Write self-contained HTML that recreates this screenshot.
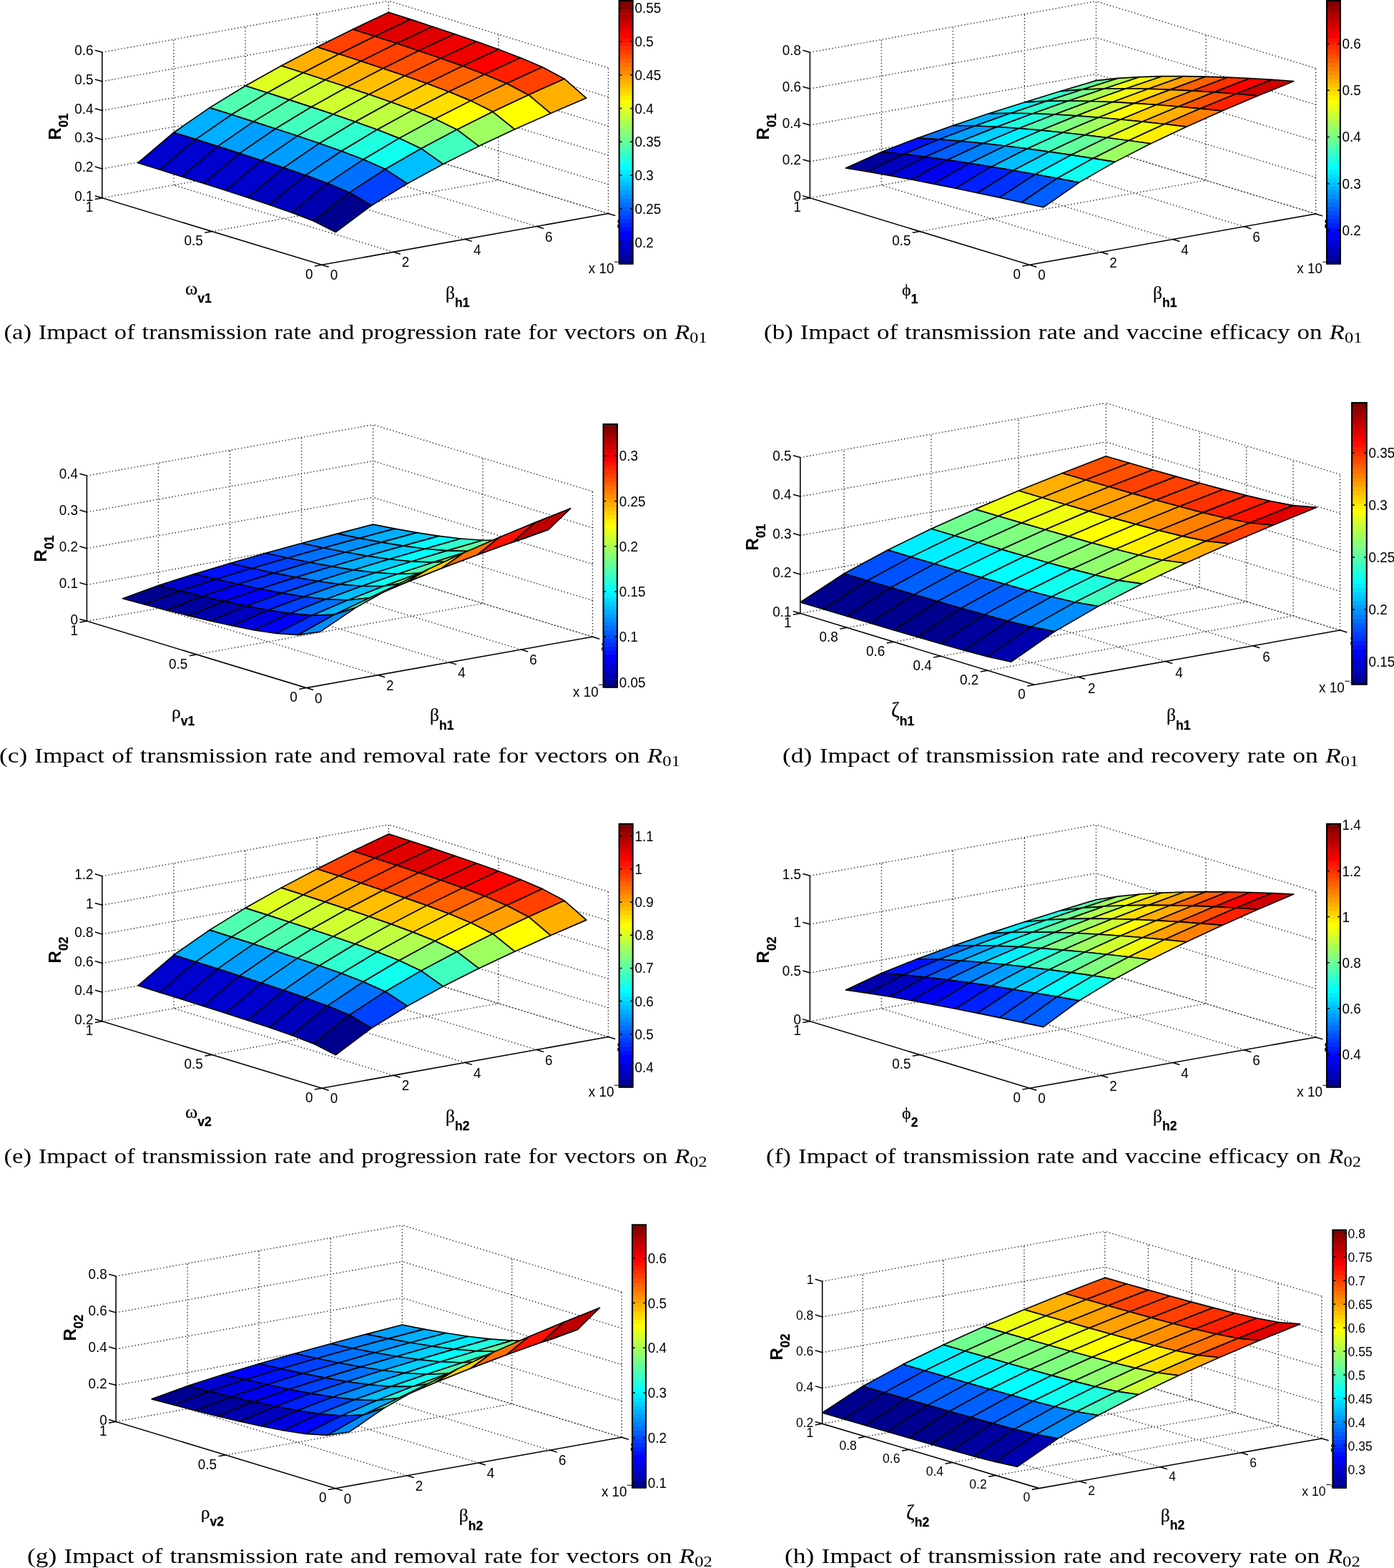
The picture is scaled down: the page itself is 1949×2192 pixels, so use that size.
<!DOCTYPE html>
<html lang="en">
<head>
<meta charset="utf-8">
<title>Impact of parameters on R01 and R02</title>
<style>
html,body{margin:0;padding:0;background:#fff;}
body{width:1949px;height:2192px;overflow:hidden;}
svg{display:block;position:absolute;left:0;top:0;}
.gr{fill:none;stroke:#000;stroke-width:1.4;stroke-dasharray:1.4 3.07;stroke-opacity:.85}
.gr2{fill:none;stroke:#000;stroke-width:1.3;stroke-dasharray:2.6 1.87;stroke-opacity:.8}
.ax{fill:none;stroke:#000;stroke-width:1.55;stroke-linecap:butt;stroke-linejoin:miter}
.sf path{stroke:#000;stroke-width:1.65;stroke-linejoin:round}
.cb{fill:none;stroke:#000;stroke-width:2.1}
.ct{fill:none;stroke:#000;stroke-width:1.5}
text{font-family:"Liberation Sans",sans-serif;fill:#000}
.tk{font-size:19.9px}
.e{text-anchor:end}
.m{text-anchor:middle}
.sup{font-size:15px}
.sup2{font-size:15px}
.al{font-size:24px;font-weight:bold}
.sb{font-size:17.6px;font-weight:bold;font-family:"Liberation Sans",sans-serif;stroke:#000;stroke-width:.25px}
.gk{font-size:25.6px;font-family:"Liberation Serif",serif;stroke:#000;stroke-width:.2px}
.cap{font-family:"Liberation Serif",serif;font-size:30px;word-spacing:1.1px}
.it{font-style:italic}
.cs{font-size:21px}
</style>
</head>
<body>
<svg xmlns="http://www.w3.org/2000/svg" width="1949" height="2192" viewBox="0 0 1949 2192">
<rect width="1949" height="2192" fill="#fff"/>
<g>
<path class="gr" d="M550.05 352.35L242.95 258.75M650.2 334.4L343.1 240.8M750.35 316.45L443.25 222.85M296.35 323.5L696.95 251.7M142.8 276.7L543.4 204.9M242.95 258.75L242.95 55.15M343.1 240.8L343.1 37.2M443.25 222.85L443.25 19.25M543.4 204.9L543.4 1.3M142.8 235.98L543.4 164.18M142.8 195.26L543.4 123.46M142.8 154.54L543.4 82.74M142.8 113.82L543.4 42.02M142.8 73.1L543.4 1.3M850.5 298.5L850.5 94.9M696.95 251.7L696.95 48.1M850.5 257.78L543.4 164.18M850.5 217.06L543.4 123.46M850.5 176.34L543.4 82.74M850.5 135.62L543.4 42.02M850.5 94.9L543.4 1.3"/>
<path class="gr2" d="M850.5 298.5L543.4 204.9"/>
<path class="ax" d="M142.8 73.1L142.8 276.7L449.9 370.3L850.5 298.5M142.8 276.7L132.8 273.8M142.8 235.98L132.8 233.08M142.8 195.26L132.8 192.36M142.8 154.54L132.8 151.64M142.8 113.82L132.8 110.92M142.8 73.1L132.8 70.2M449.9 370.3L439.86 372.1M296.35 323.5L286.31 325.3M142.8 276.7L132.76 278.5M449.9 370.3L459.66 373.27M550.05 352.35L559.81 355.32M650.2 334.4L659.96 337.37M750.35 316.45L760.11 319.42M850.5 298.5L860.26 301.47"/>
<g class="sf">
<path fill="#df0000" d="M524.03 50.8L574.11 27.11L543.4 17.18L493.32 40.91Z"/>
<path fill="#df0000" d="M554.75 60.82L604.82 37.17L574.11 27.11L524.03 50.8Z"/>
<path fill="#ff4000" d="M473.96 75.59L524.03 50.8L493.32 40.91L443.25 65.74Z"/>
<path fill="#df0000" d="M585.45 71.02L635.53 47.43L604.82 37.17L554.75 60.82Z"/>
<path fill="#ff4000" d="M504.67 85.56L554.75 60.82L524.03 50.8L473.96 75.59Z"/>
<path fill="#ffaf00" d="M423.88 101.76L473.96 75.59L443.25 65.74L393.18 91.95Z"/>
<path fill="#ef0000" d="M616.16 81.48L666.24 57.96L635.53 47.43L585.45 71.02Z"/>
<path fill="#ff4000" d="M535.38 95.69L585.45 71.02L554.75 60.82L504.67 85.56Z"/>
<path fill="#ffaf00" d="M454.6 111.67L504.67 85.56L473.96 75.59L423.88 101.76Z"/>
<path fill="#dfff20" d="M373.81 129.75L423.88 101.76L393.18 91.95L343.1 119.99Z"/>
<path fill="#ef0000" d="M646.88 92.35L696.95 68.94L666.24 57.96L616.16 81.48Z"/>
<path fill="#ff5000" d="M566.09 106.07L616.16 81.48L585.45 71.02L535.38 95.69Z"/>
<path fill="#ffaf00" d="M485.3 121.74L535.38 95.69L504.67 85.56L454.6 111.67Z"/>
<path fill="#cfff30" d="M404.52 139.61L454.6 111.67L423.88 101.76L373.81 129.75Z"/>
<path fill="#50ffaf" d="M323.74 160.31L373.81 129.75L343.1 119.99L293.03 150.61Z"/>
<path fill="#ff0000" d="M677.58 103.92L727.66 80.66L696.95 68.94L646.88 92.35Z"/>
<path fill="#ff5000" d="M596.8 116.83L646.88 92.35L616.16 81.48L566.09 106.07Z"/>
<path fill="#ffbf00" d="M516.01 132.03L566.09 106.07L535.38 95.69L485.3 121.74Z"/>
<path fill="#cfff30" d="M435.23 149.6L485.3 121.74L454.6 111.67L404.52 139.61Z"/>
<path fill="#50ffaf" d="M354.45 170.1L404.52 139.61L373.81 129.75L323.74 160.31Z"/>
<path fill="#ff2000" d="M708.29 116.81L758.37 93.8L727.66 80.66L677.58 103.92Z"/>
<path fill="#00afff" d="M273.66 194.89L323.74 160.31L293.03 150.61L242.95 185.25Z"/>
<path fill="#ff6000" d="M627.51 128.24L677.58 103.92L646.88 92.35L596.8 116.83Z"/>
<path fill="#ffbf00" d="M546.73 142.67L596.8 116.83L566.09 106.07L516.01 132.03Z"/>
<path fill="#cfff30" d="M465.94 159.79L516.01 132.03L485.3 121.74L435.23 149.6Z"/>
<path fill="#50ffaf" d="M385.15 180.01L435.23 149.6L404.52 139.61L354.45 170.1Z"/>
<path fill="#ff4000" d="M739 132.73L789.08 110.17L758.37 93.8L708.29 116.81Z"/>
<path fill="#00afff" d="M304.37 204.61L354.45 170.1L323.74 160.31L273.66 194.89Z"/>
<path fill="#ff8000" d="M658.22 140.87L708.29 116.81L677.58 103.92L627.51 128.24Z"/>
<path fill="#0000cf" d="M223.58 237.24L273.66 194.89L242.95 185.25L192.88 227.68Z"/>
<path fill="#ffcf00" d="M577.43 153.9L627.51 128.24L596.8 116.83L546.73 142.67Z"/>
<path fill="#bfff40" d="M496.65 170.3L546.73 142.67L516.01 132.03L465.94 159.79Z"/>
<path fill="#40ffbf" d="M415.87 190.09L465.94 159.79L435.23 149.6L385.15 180.01Z"/>
<path fill="#ffaf00" d="M769.71 158.5L819.79 137.07L789.08 110.17L739 132.73Z"/>
<path fill="#009fff" d="M335.08 214.41L385.15 180.01L354.45 170.1L304.37 204.61Z"/>
<path fill="#ff9f00" d="M688.93 156.29L739 132.73L708.29 116.81L658.22 140.87Z"/>
<path fill="#0000cf" d="M254.29 246.85L304.37 204.61L273.66 194.89L223.58 237.24Z"/>
<path fill="#ffdf00" d="M608.14 166.24L658.22 140.87L627.51 128.24L577.43 153.9Z"/>
<path fill="#bfff40" d="M527.36 181.33L577.43 153.9L546.73 142.67L496.65 170.3Z"/>
<path fill="#40ffbf" d="M446.58 200.44L496.65 170.3L465.94 159.79L415.87 190.09Z"/>
<path fill="#009fff" d="M365.79 224.36L415.87 190.09L385.15 180.01L335.08 214.41Z"/>
<path fill="#ffff00" d="M719.64 180.85L769.71 158.5L739 132.73L688.93 156.29Z"/>
<path fill="#0000cf" d="M285 256.53L335.08 214.41L304.37 204.61L254.29 246.85Z"/>
<path fill="#ffff00" d="M638.86 181.14L688.93 156.29L658.22 140.87L608.14 166.24Z"/>
<path fill="#afff50" d="M558.07 193.36L608.14 166.24L577.43 153.9L527.36 181.33Z"/>
<path fill="#30ffcf" d="M477.29 211.25L527.36 181.33L496.65 170.3L446.58 200.44Z"/>
<path fill="#009fff" d="M396.5 234.53L446.58 200.44L415.87 190.09L365.79 224.36Z"/>
<path fill="#0000cf" d="M315.71 266.3L365.79 224.36L335.08 214.41L285 256.53Z"/>
<path fill="#9fff60" d="M669.56 204.37L719.64 180.85L688.93 156.29L638.86 181.14Z"/>
<path fill="#8fff70" d="M588.78 207.67L638.86 181.14L608.14 166.24L558.07 193.36Z"/>
<path fill="#20ffdf" d="M508 222.92L558.07 193.36L527.36 181.33L477.29 211.25Z"/>
<path fill="#008fff" d="M427.21 245.07L477.29 211.25L446.58 200.44L396.5 234.53Z"/>
<path fill="#0000cf" d="M346.42 276.23L396.5 234.53L365.79 224.36L315.71 266.3Z"/>
<path fill="#40ffbf" d="M619.49 229.44L669.56 204.37L638.86 181.14L588.78 207.67Z"/>
<path fill="#10ffef" d="M538.71 236.57L588.78 207.67L558.07 193.36L508 222.92Z"/>
<path fill="#008fff" d="M457.92 256.32L508 222.92L477.29 211.25L427.21 245.07Z"/>
<path fill="#0000bf" d="M377.13 286.43L427.21 245.07L396.5 234.53L346.42 276.23Z"/>
<path fill="#00bfff" d="M569.41 256.68L619.49 229.44L588.78 207.67L538.71 236.57Z"/>
<path fill="#0070ff" d="M488.63 269.18L538.71 236.57L508 222.92L457.92 256.32Z"/>
<path fill="#0000bf" d="M407.84 297.12L457.92 256.32L427.21 245.07L377.13 286.43Z"/>
<path fill="#0040ff" d="M519.34 287.31L569.41 256.68L538.71 236.57L488.63 269.18Z"/>
<path fill="#0000af" d="M438.55 308.96L488.63 269.18L457.92 256.32L407.84 297.12Z"/>
<path fill="#00008f" d="M469.26 324.52L519.34 287.31L488.63 269.18L438.55 308.96Z"/>
</g>
<text class="tk e" transform="translate(130.5 280.9) scale(0.95 1)">0.1</text>
<text class="tk e" transform="translate(130.5 240.18) scale(0.95 1)">0.2</text>
<text class="tk e" transform="translate(130.5 199.46) scale(0.95 1)">0.3</text>
<text class="tk e" transform="translate(130.5 158.74) scale(0.95 1)">0.4</text>
<text class="tk e" transform="translate(130.5 118.02) scale(0.95 1)">0.5</text>
<text class="tk e" transform="translate(130.5 77.3) scale(0.95 1)">0.6</text>
<text class="tk e" transform="translate(437.4 389.9) scale(0.95 1)">0</text>
<text class="tk e" transform="translate(283.85 343.1) scale(0.95 1)">0.5</text>
<text class="tk e" transform="translate(130.3 296.3) scale(0.95 1)">1</text>
<text class="tk m" transform="translate(466.9 391.4) scale(0.95 1)">0</text>
<text class="tk m" transform="translate(567.05 373.45) scale(0.95 1)">2</text>
<text class="tk m" transform="translate(667.2 355.5) scale(0.95 1)">4</text>
<text class="tk m" transform="translate(767.35 337.55) scale(0.95 1)">6</text>
<text class="tk m" transform="translate(867.5 319.6) scale(0.95 1)">8</text>
<text class="tk" transform="translate(822.8 382) scale(0.95 1)">x 10<tspan class="sup" dy="-11.2" dx="-0.3">−</tspan><tspan class="sup2">4</tspan></text>
<text class="al" transform="translate(84.8 177) rotate(-90)" text-anchor="middle">R<tspan class="sb" dy="10">01</tspan></text>
<text class="gk" x="259" y="412.3"><tspan font-size="26.2">ω</tspan><tspan class="sb" dy="10.8">v1</tspan></text>
<text class="gk" x="623" y="417.6">β<tspan class="sb" dy="11.6">h1</tspan></text>
<rect x="864.7" y="1" width="21" height="370.8" fill="#fff"/>
<rect x="865.7" y="363.05" width="19" height="6.35" fill="#00008f"/>
<rect x="865.7" y="357.31" width="19" height="6.35" fill="#00009f"/>
<rect x="865.7" y="351.56" width="19" height="6.35" fill="#0000af"/>
<rect x="865.7" y="345.81" width="19" height="6.35" fill="#0000bf"/>
<rect x="865.7" y="340.07" width="19" height="6.35" fill="#0000cf"/>
<rect x="865.7" y="334.32" width="19" height="6.35" fill="#0000df"/>
<rect x="865.7" y="328.57" width="19" height="6.35" fill="#0000ef"/>
<rect x="865.7" y="322.82" width="19" height="6.35" fill="#0000ff"/>
<rect x="865.7" y="317.08" width="19" height="6.35" fill="#0010ff"/>
<rect x="865.7" y="311.33" width="19" height="6.35" fill="#0020ff"/>
<rect x="865.7" y="305.58" width="19" height="6.35" fill="#0030ff"/>
<rect x="865.7" y="299.84" width="19" height="6.35" fill="#0040ff"/>
<rect x="865.7" y="294.09" width="19" height="6.35" fill="#0050ff"/>
<rect x="865.7" y="288.34" width="19" height="6.35" fill="#0060ff"/>
<rect x="865.7" y="282.6" width="19" height="6.35" fill="#0070ff"/>
<rect x="865.7" y="276.85" width="19" height="6.35" fill="#0080ff"/>
<rect x="865.7" y="271.1" width="19" height="6.35" fill="#008fff"/>
<rect x="865.7" y="265.36" width="19" height="6.35" fill="#009fff"/>
<rect x="865.7" y="259.61" width="19" height="6.35" fill="#00afff"/>
<rect x="865.7" y="253.86" width="19" height="6.35" fill="#00bfff"/>
<rect x="865.7" y="248.12" width="19" height="6.35" fill="#00cfff"/>
<rect x="865.7" y="242.37" width="19" height="6.35" fill="#00dfff"/>
<rect x="865.7" y="236.62" width="19" height="6.35" fill="#00efff"/>
<rect x="865.7" y="230.88" width="19" height="6.35" fill="#00ffff"/>
<rect x="865.7" y="225.13" width="19" height="6.35" fill="#10ffef"/>
<rect x="865.7" y="219.38" width="19" height="6.35" fill="#20ffdf"/>
<rect x="865.7" y="213.63" width="19" height="6.35" fill="#30ffcf"/>
<rect x="865.7" y="207.89" width="19" height="6.35" fill="#40ffbf"/>
<rect x="865.7" y="202.14" width="19" height="6.35" fill="#50ffaf"/>
<rect x="865.7" y="196.39" width="19" height="6.35" fill="#60ff9f"/>
<rect x="865.7" y="190.65" width="19" height="6.35" fill="#70ff8f"/>
<rect x="865.7" y="184.9" width="19" height="6.35" fill="#80ff80"/>
<rect x="865.7" y="179.15" width="19" height="6.35" fill="#8fff70"/>
<rect x="865.7" y="173.41" width="19" height="6.35" fill="#9fff60"/>
<rect x="865.7" y="167.66" width="19" height="6.35" fill="#afff50"/>
<rect x="865.7" y="161.91" width="19" height="6.35" fill="#bfff40"/>
<rect x="865.7" y="156.17" width="19" height="6.35" fill="#cfff30"/>
<rect x="865.7" y="150.42" width="19" height="6.35" fill="#dfff20"/>
<rect x="865.7" y="144.67" width="19" height="6.35" fill="#efff10"/>
<rect x="865.7" y="138.93" width="19" height="6.35" fill="#ffff00"/>
<rect x="865.7" y="133.18" width="19" height="6.35" fill="#ffef00"/>
<rect x="865.7" y="127.43" width="19" height="6.35" fill="#ffdf00"/>
<rect x="865.7" y="121.68" width="19" height="6.35" fill="#ffcf00"/>
<rect x="865.7" y="115.94" width="19" height="6.35" fill="#ffbf00"/>
<rect x="865.7" y="110.19" width="19" height="6.35" fill="#ffaf00"/>
<rect x="865.7" y="104.44" width="19" height="6.35" fill="#ff9f00"/>
<rect x="865.7" y="98.7" width="19" height="6.35" fill="#ff8f00"/>
<rect x="865.7" y="92.95" width="19" height="6.35" fill="#ff8000"/>
<rect x="865.7" y="87.2" width="19" height="6.35" fill="#ff7000"/>
<rect x="865.7" y="81.46" width="19" height="6.35" fill="#ff6000"/>
<rect x="865.7" y="75.71" width="19" height="6.35" fill="#ff5000"/>
<rect x="865.7" y="69.96" width="19" height="6.35" fill="#ff4000"/>
<rect x="865.7" y="64.22" width="19" height="6.35" fill="#ff3000"/>
<rect x="865.7" y="58.47" width="19" height="6.35" fill="#ff2000"/>
<rect x="865.7" y="52.72" width="19" height="6.35" fill="#ff1000"/>
<rect x="865.7" y="46.98" width="19" height="6.35" fill="#ff0000"/>
<rect x="865.7" y="41.23" width="19" height="6.35" fill="#ef0000"/>
<rect x="865.7" y="35.48" width="19" height="6.35" fill="#df0000"/>
<rect x="865.7" y="29.73" width="19" height="6.35" fill="#cf0000"/>
<rect x="865.7" y="23.99" width="19" height="6.35" fill="#bf0000"/>
<rect x="865.7" y="18.24" width="19" height="6.35" fill="#af0000"/>
<rect x="865.7" y="12.49" width="19" height="6.35" fill="#9f0000"/>
<rect x="865.7" y="6.75" width="19" height="6.35" fill="#8f0000"/>
<rect x="865.7" y="1" width="19" height="6.35" fill="#800000"/>
<text class="tk" transform="translate(887.4 345.68) scale(0.95 1)">0.2</text>
<text class="tk" transform="translate(887.4 298.91) scale(0.95 1)">0.25</text>
<text class="tk" transform="translate(887.4 252.14) scale(0.95 1)">0.3</text>
<text class="tk" transform="translate(887.4 205.37) scale(0.95 1)">0.35</text>
<text class="tk" transform="translate(887.4 158.6) scale(0.95 1)">0.4</text>
<text class="tk" transform="translate(887.4 111.83) scale(0.95 1)">0.45</text>
<text class="tk" transform="translate(887.4 65.06) scale(0.95 1)">0.5</text>
<text class="tk" transform="translate(887.4 18.29) scale(0.95 1)">0.55</text>
<path class="ct" d="M865.7 338.68h3.7M884.7 338.68h-3.7M865.7 291.91h3.7M884.7 291.91h-3.7M865.7 245.14h3.7M884.7 245.14h-3.7M865.7 198.37h3.7M884.7 198.37h-3.7M865.7 151.6h3.7M884.7 151.6h-3.7M865.7 104.83h3.7M884.7 104.83h-3.7M865.7 58.06h3.7M884.7 58.06h-3.7M865.7 11.29h3.7M884.7 11.29h-3.7"/>
<path class="cb" d="M865.7 1H884.7V368.8H865.7Z"/>
<text class="cap" x="5.5" y="474.3" textLength="983" lengthAdjust="spacingAndGlyphs">(a) Impact of transmission rate and progression rate for vectors on <tspan class="it">R</tspan><tspan class="cs" dy="5">01</tspan></text>
</g>
<g>
<path class="gr" d="M1539.53 352.45L1232.43 258.85M1639.55 334.6L1332.45 241M1739.57 316.75L1432.47 223.15M1285.95 323.5L1686.05 252.1M1132.4 276.7L1532.5 205.3M1232.43 258.85L1232.43 55.35M1332.45 241L1332.45 37.5M1432.47 223.15L1432.47 19.65M1532.5 205.3L1532.5 1.8M1132.4 225.82L1532.5 154.42M1132.4 174.95L1532.5 103.55M1132.4 124.08L1532.5 52.67M1132.4 73.2L1532.5 1.8M1839.6 298.9L1839.6 95.4M1686.05 252.1L1686.05 48.6M1839.6 248.02L1532.5 154.42M1839.6 197.15L1532.5 103.55M1839.6 146.28L1532.5 52.67M1839.6 95.4L1532.5 1.8"/>
<path class="gr2" d="M1839.6 298.9L1532.5 205.3"/>
<path class="ax" d="M1132.4 73.2L1132.4 276.7L1439.5 370.3L1839.6 298.9M1132.4 276.7L1122.4 273.8M1132.4 225.82L1122.4 222.92M1132.4 174.95L1122.4 172.05M1132.4 124.08L1122.4 121.18M1132.4 73.2L1122.4 70.3M1439.5 370.3L1429.46 372.09M1285.95 323.5L1275.91 325.29M1132.4 276.7L1122.36 278.49M1439.5 370.3L1449.26 373.27M1539.53 352.45L1549.28 355.42M1639.55 334.6L1649.31 337.57M1739.57 316.75L1749.33 319.72M1839.6 298.9L1849.36 301.87"/>
<g class="sf">
<path fill="#60ff9f" d="M1513.2 125.16L1563.21 109.44L1532.5 112.66L1482.49 127.56Z"/>
<path fill="#afff50" d="M1543.91 124.01L1593.92 107.57L1563.21 109.44L1513.2 125.16Z"/>
<path fill="#30ffcf" d="M1463.18 141.38L1513.2 125.16L1482.49 127.56L1432.47 142.92Z"/>
<path fill="#efff10" d="M1574.62 123.8L1624.63 106.69L1593.92 107.57L1543.91 124.01Z"/>
<path fill="#70ff8f" d="M1493.89 141.02L1543.91 124.01L1513.2 125.16L1463.18 141.38Z"/>
<path fill="#00efff" d="M1413.17 158.25L1463.18 141.38L1432.47 142.92L1382.46 158.83Z"/>
<path fill="#ffcf00" d="M1605.33 124.3L1655.34 106.58L1624.63 106.69L1574.62 123.8Z"/>
<path fill="#afff50" d="M1524.6 141.51L1574.62 123.8L1543.91 124.01L1493.89 141.02Z"/>
<path fill="#30ffcf" d="M1443.88 158.73L1493.89 141.02L1463.18 141.38L1413.17 158.25Z"/>
<path fill="#00afff" d="M1363.16 175.96L1413.17 158.25L1382.46 158.83L1332.45 175.49Z"/>
<path fill="#ff9f00" d="M1636.04 125.38L1686.05 107.09L1655.34 106.58L1605.33 124.3Z"/>
<path fill="#efff10" d="M1555.31 142.67L1605.33 124.3L1574.62 123.8L1524.6 141.51Z"/>
<path fill="#70ff8f" d="M1474.59 160L1524.6 141.51L1493.89 141.02L1443.88 158.73Z"/>
<path fill="#00efff" d="M1393.87 177.38L1443.88 158.73L1413.17 158.25L1363.16 175.96Z"/>
<path fill="#0070ff" d="M1313.15 194.85L1363.16 175.96L1332.45 175.49L1282.44 193.19Z"/>
<path fill="#ff6000" d="M1666.75 126.93L1716.76 108.1L1686.05 107.09L1636.04 125.38Z"/>
<path fill="#ffdf00" d="M1586.02 144.36L1636.04 125.38L1605.33 124.3L1555.31 142.67Z"/>
<path fill="#9fff60" d="M1505.3 161.87L1555.31 142.67L1524.6 141.51L1474.59 160Z"/>
<path fill="#20ffdf" d="M1424.58 179.5L1474.59 160L1443.88 158.73L1393.87 177.38Z"/>
<path fill="#009fff" d="M1343.86 197.33L1393.87 177.38L1363.16 175.96L1313.15 194.85Z"/>
<path fill="#ff3000" d="M1697.46 128.89L1747.47 109.55L1716.76 108.1L1666.75 126.93Z"/>
<path fill="#0010ff" d="M1263.14 215.6L1313.15 194.85L1282.44 193.19L1232.43 212.53Z"/>
<path fill="#ffaf00" d="M1616.73 146.5L1666.75 126.93L1636.04 125.38L1586.02 144.36Z"/>
<path fill="#cfff30" d="M1536.01 164.23L1586.02 144.36L1555.31 142.67L1505.3 161.87Z"/>
<path fill="#50ffaf" d="M1455.29 182.16L1505.3 161.87L1474.59 160L1424.58 179.5Z"/>
<path fill="#00cfff" d="M1374.57 200.42L1424.58 179.5L1393.87 177.38L1343.86 197.33Z"/>
<path fill="#ff0000" d="M1728.17 131.2L1778.18 111.37L1747.47 109.55L1697.46 128.89Z"/>
<path fill="#0040ff" d="M1293.85 219.34L1343.86 197.33L1313.15 194.85L1263.14 215.6Z"/>
<path fill="#ff8000" d="M1647.44 149.01L1697.46 128.89L1666.75 126.93L1616.73 146.5Z"/>
<path fill="#00009f" d="M1213.12 239.93L1263.14 215.6L1232.43 212.53L1182.41 235.02Z"/>
<path fill="#ffff00" d="M1566.72 167L1616.73 146.5L1586.02 144.36L1536.01 164.23Z"/>
<path fill="#80ff80" d="M1486 185.26L1536.01 164.23L1505.3 161.87L1455.29 182.16Z"/>
<path fill="#00efff" d="M1405.28 203.98L1455.29 182.16L1424.58 179.5L1374.57 200.42Z"/>
<path fill="#cf0000" d="M1758.88 133.81L1808.89 113.51L1778.18 111.37L1728.17 131.2Z"/>
<path fill="#0060ff" d="M1324.56 223.58L1374.57 200.42L1343.86 197.33L1293.85 219.34Z"/>
<path fill="#ff5000" d="M1678.15 151.84L1728.17 131.2L1697.46 128.89L1647.44 149.01Z"/>
<path fill="#0000bf" d="M1243.83 245.32L1293.85 219.34L1263.14 215.6L1213.12 239.93Z"/>
<path fill="#ffcf00" d="M1597.43 170.1L1647.44 149.01L1616.73 146.5L1566.72 167Z"/>
<path fill="#9fff60" d="M1516.71 188.72L1566.72 167L1536.01 164.23L1486 185.26Z"/>
<path fill="#20ffdf" d="M1435.99 207.92L1486 185.26L1455.29 182.16L1405.28 203.98Z"/>
<path fill="#0080ff" d="M1355.27 228.21L1405.28 203.98L1374.57 200.42L1324.56 223.58Z"/>
<path fill="#ff2000" d="M1708.86 154.95L1758.88 133.81L1728.17 131.2L1678.15 151.84Z"/>
<path fill="#0000df" d="M1274.54 251.06L1324.56 223.58L1293.85 219.34L1243.83 245.32Z"/>
<path fill="#ffaf00" d="M1628.14 173.5L1678.15 151.84L1647.44 149.01L1597.43 170.1Z"/>
<path fill="#cfff30" d="M1547.42 192.49L1597.43 170.1L1566.72 167L1516.71 188.72Z"/>
<path fill="#40ffbf" d="M1466.7 212.17L1516.71 188.72L1486 185.26L1435.99 207.92Z"/>
<path fill="#009fff" d="M1385.98 233.14L1435.99 207.92L1405.28 203.98L1355.27 228.21Z"/>
<path fill="#0000ef" d="M1305.25 257.07L1355.27 228.21L1324.56 223.58L1274.54 251.06Z"/>
<path fill="#ff8000" d="M1658.85 177.15L1708.86 154.95L1678.15 151.84L1628.14 173.5Z"/>
<path fill="#efff10" d="M1578.13 196.51L1628.14 173.5L1597.43 170.1L1547.42 192.49Z"/>
<path fill="#60ff9f" d="M1497.41 216.69L1547.42 192.49L1516.71 188.72L1466.7 212.17Z"/>
<path fill="#00bfff" d="M1416.69 238.33L1466.7 212.17L1435.99 207.92L1385.98 233.14Z"/>
<path fill="#0010ff" d="M1335.96 263.3L1385.98 233.14L1355.27 228.21L1305.25 257.07Z"/>
<path fill="#ffef00" d="M1608.84 200.77L1658.85 177.15L1628.14 173.5L1578.13 196.51Z"/>
<path fill="#80ff80" d="M1528.12 221.43L1578.13 196.51L1547.42 192.49L1497.41 216.69Z"/>
<path fill="#00dfff" d="M1447.4 243.74L1497.41 216.69L1466.7 212.17L1416.69 238.33Z"/>
<path fill="#0020ff" d="M1366.67 269.72L1416.69 238.33L1385.98 233.14L1335.96 263.3Z"/>
<path fill="#9fff60" d="M1558.83 226.37L1608.84 200.77L1578.13 196.51L1528.12 221.43Z"/>
<path fill="#00ffff" d="M1478.11 249.33L1528.12 221.43L1497.41 216.69L1447.4 243.74Z"/>
<path fill="#0030ff" d="M1397.38 276.28L1447.4 243.74L1416.69 238.33L1366.67 269.72Z"/>
<path fill="#10ffef" d="M1508.82 255.08L1558.83 226.37L1528.12 221.43L1478.11 249.33Z"/>
<path fill="#0050ff" d="M1428.09 282.97L1478.11 249.33L1447.4 243.74L1397.38 276.28Z"/>
<path fill="#0060ff" d="M1458.8 289.78L1508.82 255.08L1478.11 249.33L1428.09 282.97Z"/>
</g>
<text class="tk e" transform="translate(1120.1 280.9) scale(0.95 1)">0</text>
<text class="tk e" transform="translate(1120.1 230.02) scale(0.95 1)">0.2</text>
<text class="tk e" transform="translate(1120.1 179.15) scale(0.95 1)">0.4</text>
<text class="tk e" transform="translate(1120.1 128.28) scale(0.95 1)">0.6</text>
<text class="tk e" transform="translate(1120.1 77.4) scale(0.95 1)">0.8</text>
<text class="tk e" transform="translate(1427 389.9) scale(0.95 1)">0</text>
<text class="tk e" transform="translate(1273.45 343.1) scale(0.95 1)">0.5</text>
<text class="tk e" transform="translate(1119.9 296.3) scale(0.95 1)">1</text>
<text class="tk m" transform="translate(1456.5 391.4) scale(0.95 1)">0</text>
<text class="tk m" transform="translate(1556.53 373.55) scale(0.95 1)">2</text>
<text class="tk m" transform="translate(1656.55 355.7) scale(0.95 1)">4</text>
<text class="tk m" transform="translate(1756.57 337.85) scale(0.95 1)">6</text>
<text class="tk m" transform="translate(1856.6 320) scale(0.95 1)">8</text>
<text class="tk" transform="translate(1813.3 382) scale(0.95 1)">x 10<tspan class="sup" dy="-11.2" dx="-0.3">−</tspan><tspan class="sup2">4</tspan></text>
<text class="al" transform="translate(1074.8 177) rotate(-90)" text-anchor="middle">R<tspan class="sb" dy="10">01</tspan></text>
<text class="gk" x="1261" y="413.2"><tspan font-size="24">ϕ</tspan><tspan class="sb" dy="10.8">1</tspan></text>
<text class="gk" x="1612" y="417.6">β<tspan class="sb" dy="11.6">h1</tspan></text>
<rect x="1854" y="1" width="20.9" height="370.8" fill="#fff"/>
<rect x="1855" y="363.05" width="18.9" height="6.35" fill="#00008f"/>
<rect x="1855" y="357.31" width="18.9" height="6.35" fill="#00009f"/>
<rect x="1855" y="351.56" width="18.9" height="6.35" fill="#0000af"/>
<rect x="1855" y="345.81" width="18.9" height="6.35" fill="#0000bf"/>
<rect x="1855" y="340.07" width="18.9" height="6.35" fill="#0000cf"/>
<rect x="1855" y="334.32" width="18.9" height="6.35" fill="#0000df"/>
<rect x="1855" y="328.57" width="18.9" height="6.35" fill="#0000ef"/>
<rect x="1855" y="322.82" width="18.9" height="6.35" fill="#0000ff"/>
<rect x="1855" y="317.08" width="18.9" height="6.35" fill="#0010ff"/>
<rect x="1855" y="311.33" width="18.9" height="6.35" fill="#0020ff"/>
<rect x="1855" y="305.58" width="18.9" height="6.35" fill="#0030ff"/>
<rect x="1855" y="299.84" width="18.9" height="6.35" fill="#0040ff"/>
<rect x="1855" y="294.09" width="18.9" height="6.35" fill="#0050ff"/>
<rect x="1855" y="288.34" width="18.9" height="6.35" fill="#0060ff"/>
<rect x="1855" y="282.6" width="18.9" height="6.35" fill="#0070ff"/>
<rect x="1855" y="276.85" width="18.9" height="6.35" fill="#0080ff"/>
<rect x="1855" y="271.1" width="18.9" height="6.35" fill="#008fff"/>
<rect x="1855" y="265.36" width="18.9" height="6.35" fill="#009fff"/>
<rect x="1855" y="259.61" width="18.9" height="6.35" fill="#00afff"/>
<rect x="1855" y="253.86" width="18.9" height="6.35" fill="#00bfff"/>
<rect x="1855" y="248.12" width="18.9" height="6.35" fill="#00cfff"/>
<rect x="1855" y="242.37" width="18.9" height="6.35" fill="#00dfff"/>
<rect x="1855" y="236.62" width="18.9" height="6.35" fill="#00efff"/>
<rect x="1855" y="230.88" width="18.9" height="6.35" fill="#00ffff"/>
<rect x="1855" y="225.13" width="18.9" height="6.35" fill="#10ffef"/>
<rect x="1855" y="219.38" width="18.9" height="6.35" fill="#20ffdf"/>
<rect x="1855" y="213.63" width="18.9" height="6.35" fill="#30ffcf"/>
<rect x="1855" y="207.89" width="18.9" height="6.35" fill="#40ffbf"/>
<rect x="1855" y="202.14" width="18.9" height="6.35" fill="#50ffaf"/>
<rect x="1855" y="196.39" width="18.9" height="6.35" fill="#60ff9f"/>
<rect x="1855" y="190.65" width="18.9" height="6.35" fill="#70ff8f"/>
<rect x="1855" y="184.9" width="18.9" height="6.35" fill="#80ff80"/>
<rect x="1855" y="179.15" width="18.9" height="6.35" fill="#8fff70"/>
<rect x="1855" y="173.41" width="18.9" height="6.35" fill="#9fff60"/>
<rect x="1855" y="167.66" width="18.9" height="6.35" fill="#afff50"/>
<rect x="1855" y="161.91" width="18.9" height="6.35" fill="#bfff40"/>
<rect x="1855" y="156.17" width="18.9" height="6.35" fill="#cfff30"/>
<rect x="1855" y="150.42" width="18.9" height="6.35" fill="#dfff20"/>
<rect x="1855" y="144.67" width="18.9" height="6.35" fill="#efff10"/>
<rect x="1855" y="138.93" width="18.9" height="6.35" fill="#ffff00"/>
<rect x="1855" y="133.18" width="18.9" height="6.35" fill="#ffef00"/>
<rect x="1855" y="127.43" width="18.9" height="6.35" fill="#ffdf00"/>
<rect x="1855" y="121.68" width="18.9" height="6.35" fill="#ffcf00"/>
<rect x="1855" y="115.94" width="18.9" height="6.35" fill="#ffbf00"/>
<rect x="1855" y="110.19" width="18.9" height="6.35" fill="#ffaf00"/>
<rect x="1855" y="104.44" width="18.9" height="6.35" fill="#ff9f00"/>
<rect x="1855" y="98.7" width="18.9" height="6.35" fill="#ff8f00"/>
<rect x="1855" y="92.95" width="18.9" height="6.35" fill="#ff8000"/>
<rect x="1855" y="87.2" width="18.9" height="6.35" fill="#ff7000"/>
<rect x="1855" y="81.46" width="18.9" height="6.35" fill="#ff6000"/>
<rect x="1855" y="75.71" width="18.9" height="6.35" fill="#ff5000"/>
<rect x="1855" y="69.96" width="18.9" height="6.35" fill="#ff4000"/>
<rect x="1855" y="64.22" width="18.9" height="6.35" fill="#ff3000"/>
<rect x="1855" y="58.47" width="18.9" height="6.35" fill="#ff2000"/>
<rect x="1855" y="52.72" width="18.9" height="6.35" fill="#ff1000"/>
<rect x="1855" y="46.98" width="18.9" height="6.35" fill="#ff0000"/>
<rect x="1855" y="41.23" width="18.9" height="6.35" fill="#ef0000"/>
<rect x="1855" y="35.48" width="18.9" height="6.35" fill="#df0000"/>
<rect x="1855" y="29.73" width="18.9" height="6.35" fill="#cf0000"/>
<rect x="1855" y="23.99" width="18.9" height="6.35" fill="#bf0000"/>
<rect x="1855" y="18.24" width="18.9" height="6.35" fill="#af0000"/>
<rect x="1855" y="12.49" width="18.9" height="6.35" fill="#9f0000"/>
<rect x="1855" y="6.75" width="18.9" height="6.35" fill="#8f0000"/>
<rect x="1855" y="1" width="18.9" height="6.35" fill="#800000"/>
<text class="tk" transform="translate(1876.6 328.85) scale(0.95 1)">0.2</text>
<text class="tk" transform="translate(1876.6 263.63) scale(0.95 1)">0.3</text>
<text class="tk" transform="translate(1876.6 198.42) scale(0.95 1)">0.4</text>
<text class="tk" transform="translate(1876.6 133.21) scale(0.95 1)">0.5</text>
<text class="tk" transform="translate(1876.6 68) scale(0.95 1)">0.6</text>
<path class="ct" d="M1855 321.85h3.7M1873.9 321.85h-3.7M1855 256.63h3.7M1873.9 256.63h-3.7M1855 191.42h3.7M1873.9 191.42h-3.7M1855 126.21h3.7M1873.9 126.21h-3.7M1855 61h3.7M1873.9 61h-3.7"/>
<path class="cb" d="M1855 1H1873.9V368.8H1855Z"/>
<text class="cap" x="1068" y="474.3" textLength="836.4" lengthAdjust="spacingAndGlyphs">(b) Impact of transmission rate and vaccine efficacy on <tspan class="it">R</tspan><tspan class="cs" dy="5">01</tspan></text>
</g>
<g>
<path class="gr" d="M528.35 943.75L221.45 850.45M628.4 925.9L321.5 832.6M728.45 908.05L421.55 814.75M274.85 914.95L675.05 843.55M121.4 868.3L521.6 796.9M221.45 850.45L221.45 647.25M321.5 832.6L321.5 629.4M421.55 814.75L421.55 611.55M521.6 796.9L521.6 593.7M121.4 817.5L521.6 746.1M121.4 766.7L521.6 695.3M121.4 715.9L521.6 644.5M121.4 665.1L521.6 593.7M828.5 890.2L828.5 687M675.05 843.55L675.05 640.35M828.5 839.4L521.6 746.1M828.5 788.6L521.6 695.3M828.5 737.8L521.6 644.5M828.5 687L521.6 593.7"/>
<path class="gr2" d="M828.5 890.2L521.6 796.9"/>
<path class="ax" d="M121.4 665.1L121.4 868.3L428.3 961.6L828.5 890.2M121.4 868.3L111.4 865.4M121.4 817.5L111.4 814.6M121.4 766.7L111.4 763.8M121.4 715.9L111.4 713M121.4 665.1L111.4 662.2M428.3 961.6L418.26 963.39M274.85 914.95L264.81 916.74M121.4 868.3L111.36 870.09M428.3 961.6L438.06 964.57M528.35 943.75L538.11 946.72M628.4 925.9L638.16 928.87M728.45 908.05L738.21 911.02M828.5 890.2L838.26 893.17"/>
<g class="sf">
<path fill="#009fff" d="M502.27 752.38L552.29 739.12L521.6 733.08L471.58 746.12Z"/>
<path fill="#00afff" d="M532.96 758.11L582.98 744.6L552.29 739.12L502.27 752.38Z"/>
<path fill="#0080ff" d="M452.24 765.96L502.27 752.38L471.58 746.12L421.55 759.48Z"/>
<path fill="#00cfff" d="M563.64 763.14L613.67 749.34L582.98 744.6L532.96 758.11Z"/>
<path fill="#008fff" d="M482.93 771.96L532.96 758.11L502.27 752.38L452.24 765.96Z"/>
<path fill="#0060ff" d="M402.21 779.95L452.24 765.96L421.55 759.48L371.52 773.22Z"/>
<path fill="#00ffff" d="M594.34 767.21L644.36 753.04L613.67 749.34L563.64 763.14Z"/>
<path fill="#00afff" d="M513.62 777.31L563.64 763.14L532.96 758.11L482.93 771.96Z"/>
<path fill="#0070ff" d="M432.9 786.24L482.93 771.96L452.24 765.96L402.21 779.95Z"/>
<path fill="#0030ff" d="M352.19 794.48L402.21 779.95L371.52 773.22L321.5 787.47Z"/>
<path fill="#30ffcf" d="M625.03 769.89L675.05 755.26L644.36 753.04L594.34 767.21Z"/>
<path fill="#00cfff" d="M544.31 781.76L594.34 767.21L563.64 763.14L513.62 777.31Z"/>
<path fill="#008fff" d="M463.59 791.93L513.62 777.31L482.93 771.96L432.9 786.24Z"/>
<path fill="#0040ff" d="M382.88 801.09L432.9 786.24L402.21 779.95L352.19 794.48Z"/>
<path fill="#0010ff" d="M302.17 809.76L352.19 794.48L321.5 787.47L271.48 802.44Z"/>
<path fill="#60ff9f" d="M655.72 770.45L705.74 755.22L675.05 755.26L625.03 769.89Z"/>
<path fill="#00ffff" d="M575 784.94L625.03 769.89L594.34 767.21L544.31 781.76Z"/>
<path fill="#00afff" d="M494.28 796.82L544.31 781.76L513.62 777.31L463.59 791.93Z"/>
<path fill="#0060ff" d="M413.57 807.16L463.59 791.93L432.9 786.24L382.88 801.09Z"/>
<path fill="#0020ff" d="M332.86 816.73L382.88 801.09L352.19 794.48L302.17 809.76Z"/>
<path fill="#bfff40" d="M686.4 767.46L736.43 751.38L705.74 755.22L655.72 770.45Z"/>
<path fill="#0000cf" d="M252.14 826.23L302.17 809.76L271.48 802.44L221.45 818.54Z"/>
<path fill="#30ffcf" d="M605.69 786.16L655.72 770.45L625.03 769.89L575 784.94Z"/>
<path fill="#00cfff" d="M524.97 800.53L575 784.94L544.31 781.76L494.28 796.82Z"/>
<path fill="#0080ff" d="M444.26 812.52L494.28 796.82L463.59 791.93L413.57 807.16Z"/>
<path fill="#0030ff" d="M363.54 823.25L413.57 807.16L382.88 801.09L332.86 816.73Z"/>
<path fill="#ffbf00" d="M717.1 757.61L767.12 740.2L736.43 751.38L686.4 767.46Z"/>
<path fill="#0000df" d="M282.83 833.63L332.86 816.73L302.17 809.76L252.14 826.23Z"/>
<path fill="#80ff80" d="M636.38 784.08L686.4 767.46L655.72 770.45L605.69 786.16Z"/>
<path fill="#00008f" d="M202.12 844.98L252.14 826.23L221.45 818.54L171.43 836.81Z"/>
<path fill="#00ffff" d="M555.66 802.45L605.69 786.16L575 784.94L524.97 800.53Z"/>
<path fill="#009fff" d="M474.95 816.82L524.97 800.53L494.28 796.82L444.26 812.52Z"/>
<path fill="#0040ff" d="M394.24 829.13L444.26 812.52L413.57 807.16L363.54 823.25Z"/>
<path fill="#bf0000" d="M747.79 730.61L797.81 710.69L767.12 740.2L717.1 757.61Z"/>
<path fill="#0000ef" d="M313.52 840.66L363.54 823.25L332.86 816.73L282.83 833.63Z"/>
<path fill="#ffff00" d="M667.07 775.65L717.1 757.61L686.4 767.46L636.38 784.08Z"/>
<path fill="#00009f" d="M232.81 852.95L282.83 833.63L252.14 826.23L202.12 844.98Z"/>
<path fill="#50ffaf" d="M586.35 801.37L636.38 784.08L605.69 786.16L555.66 802.45Z"/>
<path fill="#00cfff" d="M505.64 819.52L555.66 802.45L524.97 800.53L474.95 816.82Z"/>
<path fill="#0060ff" d="M424.93 834.11L474.95 816.82L444.26 812.52L394.24 829.13Z"/>
<path fill="#0000ff" d="M344.21 847.18L394.24 829.13L363.54 823.25L313.52 840.66Z"/>
<path fill="#ff1000" d="M697.76 751.34L747.79 730.61L717.1 757.61L667.07 775.65Z"/>
<path fill="#00009f" d="M263.5 860.65L313.52 840.66L282.83 833.63L232.81 852.95Z"/>
<path fill="#bfff40" d="M617.04 794.48L667.07 775.65L636.38 784.08L586.35 801.37Z"/>
<path fill="#10ffef" d="M536.33 819.54L586.35 801.37L555.66 802.45L505.64 819.52Z"/>
<path fill="#008fff" d="M455.62 837.7L505.64 819.52L474.95 816.82L424.93 834.11Z"/>
<path fill="#0020ff" d="M374.9 852.96L424.93 834.11L394.24 829.13L344.21 847.18Z"/>
<path fill="#0000af" d="M294.18 867.99L344.21 847.18L313.52 840.66L263.5 860.65Z"/>
<path fill="#ff7000" d="M647.73 773.11L697.76 751.34L667.07 775.65L617.04 794.48Z"/>
<path fill="#70ff8f" d="M567.02 814.37L617.04 794.48L586.35 801.37L536.33 819.54Z"/>
<path fill="#00bfff" d="M486.31 838.97L536.33 819.54L505.64 819.52L455.62 837.7Z"/>
<path fill="#0040ff" d="M405.59 857.6L455.62 837.7L424.93 834.11L374.9 852.96Z"/>
<path fill="#0000bf" d="M324.88 874.81L374.9 852.96L344.21 847.18L294.18 867.99Z"/>
<path fill="#ffcf00" d="M597.71 796.23L647.73 773.11L617.04 794.48L567.02 814.37Z"/>
<path fill="#20ffdf" d="M517 835.74L567.02 814.37L536.33 819.54L486.31 838.97Z"/>
<path fill="#0070ff" d="M436.28 860.34L486.31 838.97L455.62 837.7L405.59 857.6Z"/>
<path fill="#0000df" d="M355.56 880.83L405.59 857.6L374.9 852.96L324.88 874.81Z"/>
<path fill="#bfff40" d="M547.68 821.28L597.71 796.23L567.02 814.37L517 835.74Z"/>
<path fill="#00afff" d="M466.97 859.42L517 835.74L486.31 838.97L436.28 860.34Z"/>
<path fill="#0000ff" d="M386.25 885.5L436.28 860.34L405.59 857.6L355.56 880.83Z"/>
<path fill="#40ffbf" d="M497.66 849.33L547.68 821.28L517 835.74L466.97 859.42Z"/>
<path fill="#0030ff" d="M416.94 887.58L466.97 859.42L436.28 860.34L386.25 885.5Z"/>
<path fill="#008fff" d="M447.63 883.18L497.66 849.33L466.97 859.42L416.94 887.58Z"/>
</g>
<text class="tk e" transform="translate(109.1 872.5) scale(0.95 1)">0</text>
<text class="tk e" transform="translate(109.1 821.7) scale(0.95 1)">0.1</text>
<text class="tk e" transform="translate(109.1 770.9) scale(0.95 1)">0.2</text>
<text class="tk e" transform="translate(109.1 720.1) scale(0.95 1)">0.3</text>
<text class="tk e" transform="translate(109.1 669.3) scale(0.95 1)">0.4</text>
<text class="tk e" transform="translate(415.8 981.2) scale(0.95 1)">0</text>
<text class="tk e" transform="translate(262.35 934.55) scale(0.95 1)">0.5</text>
<text class="tk e" transform="translate(108.9 887.9) scale(0.95 1)">1</text>
<text class="tk m" transform="translate(445.3 982.7) scale(0.95 1)">0</text>
<text class="tk m" transform="translate(545.35 964.85) scale(0.95 1)">2</text>
<text class="tk m" transform="translate(645.4 947) scale(0.95 1)">4</text>
<text class="tk m" transform="translate(745.45 929.15) scale(0.95 1)">6</text>
<text class="tk m" transform="translate(845.5 911.3) scale(0.95 1)">8</text>
<text class="tk" transform="translate(801 973.6) scale(0.95 1)">x 10<tspan class="sup" dy="-11.2" dx="-0.3">−</tspan><tspan class="sup2">4</tspan></text>
<text class="al" transform="translate(65 767) rotate(-90)" text-anchor="middle">R<tspan class="sb" dy="10">01</tspan></text>
<text class="gk" x="240" y="1003.5"><tspan font-size="25.6">ρ</tspan><tspan class="sb" dy="10.8">v1</tspan></text>
<text class="gk" x="601" y="1008">β<tspan class="sb" dy="11.6">h1</tspan></text>
<rect x="842.6" y="593" width="21.4" height="370.7" fill="#fff"/>
<rect x="843.6" y="954.95" width="19.4" height="6.35" fill="#00008f"/>
<rect x="843.6" y="949.21" width="19.4" height="6.35" fill="#00009f"/>
<rect x="843.6" y="943.46" width="19.4" height="6.35" fill="#0000af"/>
<rect x="843.6" y="937.72" width="19.4" height="6.35" fill="#0000bf"/>
<rect x="843.6" y="931.97" width="19.4" height="6.35" fill="#0000cf"/>
<rect x="843.6" y="926.23" width="19.4" height="6.35" fill="#0000df"/>
<rect x="843.6" y="920.48" width="19.4" height="6.35" fill="#0000ef"/>
<rect x="843.6" y="914.74" width="19.4" height="6.35" fill="#0000ff"/>
<rect x="843.6" y="908.99" width="19.4" height="6.35" fill="#0010ff"/>
<rect x="843.6" y="903.25" width="19.4" height="6.35" fill="#0020ff"/>
<rect x="843.6" y="897.5" width="19.4" height="6.35" fill="#0030ff"/>
<rect x="843.6" y="891.76" width="19.4" height="6.35" fill="#0040ff"/>
<rect x="843.6" y="886.01" width="19.4" height="6.35" fill="#0050ff"/>
<rect x="843.6" y="880.27" width="19.4" height="6.35" fill="#0060ff"/>
<rect x="843.6" y="874.52" width="19.4" height="6.35" fill="#0070ff"/>
<rect x="843.6" y="868.78" width="19.4" height="6.35" fill="#0080ff"/>
<rect x="843.6" y="863.03" width="19.4" height="6.35" fill="#008fff"/>
<rect x="843.6" y="857.28" width="19.4" height="6.35" fill="#009fff"/>
<rect x="843.6" y="851.54" width="19.4" height="6.35" fill="#00afff"/>
<rect x="843.6" y="845.79" width="19.4" height="6.35" fill="#00bfff"/>
<rect x="843.6" y="840.05" width="19.4" height="6.35" fill="#00cfff"/>
<rect x="843.6" y="834.3" width="19.4" height="6.35" fill="#00dfff"/>
<rect x="843.6" y="828.56" width="19.4" height="6.35" fill="#00efff"/>
<rect x="843.6" y="822.81" width="19.4" height="6.35" fill="#00ffff"/>
<rect x="843.6" y="817.07" width="19.4" height="6.35" fill="#10ffef"/>
<rect x="843.6" y="811.32" width="19.4" height="6.35" fill="#20ffdf"/>
<rect x="843.6" y="805.58" width="19.4" height="6.35" fill="#30ffcf"/>
<rect x="843.6" y="799.83" width="19.4" height="6.35" fill="#40ffbf"/>
<rect x="843.6" y="794.09" width="19.4" height="6.35" fill="#50ffaf"/>
<rect x="843.6" y="788.34" width="19.4" height="6.35" fill="#60ff9f"/>
<rect x="843.6" y="782.6" width="19.4" height="6.35" fill="#70ff8f"/>
<rect x="843.6" y="776.85" width="19.4" height="6.35" fill="#80ff80"/>
<rect x="843.6" y="771.1" width="19.4" height="6.35" fill="#8fff70"/>
<rect x="843.6" y="765.36" width="19.4" height="6.35" fill="#9fff60"/>
<rect x="843.6" y="759.61" width="19.4" height="6.35" fill="#afff50"/>
<rect x="843.6" y="753.87" width="19.4" height="6.35" fill="#bfff40"/>
<rect x="843.6" y="748.12" width="19.4" height="6.35" fill="#cfff30"/>
<rect x="843.6" y="742.38" width="19.4" height="6.35" fill="#dfff20"/>
<rect x="843.6" y="736.63" width="19.4" height="6.35" fill="#efff10"/>
<rect x="843.6" y="730.89" width="19.4" height="6.35" fill="#ffff00"/>
<rect x="843.6" y="725.14" width="19.4" height="6.35" fill="#ffef00"/>
<rect x="843.6" y="719.4" width="19.4" height="6.35" fill="#ffdf00"/>
<rect x="843.6" y="713.65" width="19.4" height="6.35" fill="#ffcf00"/>
<rect x="843.6" y="707.91" width="19.4" height="6.35" fill="#ffbf00"/>
<rect x="843.6" y="702.16" width="19.4" height="6.35" fill="#ffaf00"/>
<rect x="843.6" y="696.42" width="19.4" height="6.35" fill="#ff9f00"/>
<rect x="843.6" y="690.67" width="19.4" height="6.35" fill="#ff8f00"/>
<rect x="843.6" y="684.92" width="19.4" height="6.35" fill="#ff8000"/>
<rect x="843.6" y="679.18" width="19.4" height="6.35" fill="#ff7000"/>
<rect x="843.6" y="673.43" width="19.4" height="6.35" fill="#ff6000"/>
<rect x="843.6" y="667.69" width="19.4" height="6.35" fill="#ff5000"/>
<rect x="843.6" y="661.94" width="19.4" height="6.35" fill="#ff4000"/>
<rect x="843.6" y="656.2" width="19.4" height="6.35" fill="#ff3000"/>
<rect x="843.6" y="650.45" width="19.4" height="6.35" fill="#ff2000"/>
<rect x="843.6" y="644.71" width="19.4" height="6.35" fill="#ff1000"/>
<rect x="843.6" y="638.96" width="19.4" height="6.35" fill="#ff0000"/>
<rect x="843.6" y="633.22" width="19.4" height="6.35" fill="#ef0000"/>
<rect x="843.6" y="627.47" width="19.4" height="6.35" fill="#df0000"/>
<rect x="843.6" y="621.73" width="19.4" height="6.35" fill="#cf0000"/>
<rect x="843.6" y="615.98" width="19.4" height="6.35" fill="#bf0000"/>
<rect x="843.6" y="610.24" width="19.4" height="6.35" fill="#af0000"/>
<rect x="843.6" y="604.49" width="19.4" height="6.35" fill="#9f0000"/>
<rect x="843.6" y="598.75" width="19.4" height="6.35" fill="#8f0000"/>
<rect x="843.6" y="593" width="19.4" height="6.35" fill="#800000"/>
<text class="tk" transform="translate(865.7 960.61) scale(0.95 1)">0.05</text>
<text class="tk" transform="translate(865.7 897.35) scale(0.95 1)">0.1</text>
<text class="tk" transform="translate(865.7 834.08) scale(0.95 1)">0.15</text>
<text class="tk" transform="translate(865.7 770.82) scale(0.95 1)">0.2</text>
<text class="tk" transform="translate(865.7 707.55) scale(0.95 1)">0.25</text>
<text class="tk" transform="translate(865.7 644.29) scale(0.95 1)">0.3</text>
<path class="ct" d="M843.6 953.61h3.7M863 953.61h-3.7M843.6 890.35h3.7M863 890.35h-3.7M843.6 827.08h3.7M863 827.08h-3.7M843.6 763.82h3.7M863 763.82h-3.7M843.6 700.55h3.7M863 700.55h-3.7M843.6 637.29h3.7M863 637.29h-3.7"/>
<path class="cb" d="M843.6 593H863V960.7H843.6Z"/>
<text class="cap" x="-1" y="1066" textLength="952" lengthAdjust="spacingAndGlyphs">(c) Impact of transmission rate and removal rate for vectors on <tspan class="it">R</tspan><tspan class="cs" dy="5">01</tspan></text>
</g>
<g>
<path class="gr" d="M1507.34 946.31L1179.94 846.51M1629.43 924.54L1302.03 824.74M1751.51 902.77L1424.11 802.97M1380.82 937.24L1808.12 861.04M1315.34 917.28L1742.64 841.08M1249.86 897.32L1677.16 821.12M1184.38 877.36L1611.68 801.16M1118.9 857.4L1546.2 781.2M1179.94 846.51L1179.94 628.71M1302.03 824.74L1302.03 606.94M1424.11 802.97L1424.11 585.17M1546.2 781.2L1546.2 563.4M1118.9 802.95L1546.2 726.75M1118.9 748.5L1546.2 672.3M1118.9 694.05L1546.2 617.85M1118.9 639.6L1546.2 563.4M1873.6 881L1873.6 663.2M1808.12 861.04L1808.12 643.24M1742.64 841.08L1742.64 623.28M1677.16 821.12L1677.16 603.32M1611.68 801.16L1611.68 583.36M1873.6 826.55L1546.2 726.75M1873.6 772.1L1546.2 672.3M1873.6 717.65L1546.2 617.85M1873.6 663.2L1546.2 563.4"/>
<path class="gr2" d="M1873.6 881L1546.2 781.2"/>
<path class="ax" d="M1118.9 639.6L1118.9 857.4L1446.3 957.2L1873.6 881M1118.9 857.4L1108.9 854.5M1118.9 802.95L1108.9 800.05M1118.9 748.5L1108.9 745.6M1118.9 694.05L1108.9 691.15M1118.9 639.6L1108.9 636.7M1446.3 957.2L1436.26 958.99M1380.82 937.24L1370.78 939.03M1315.34 917.28L1305.3 919.07M1249.86 897.32L1239.82 899.11M1184.38 877.36L1174.34 879.15M1118.9 857.4L1108.86 859.19M1507.34 946.31L1517.1 949.29M1629.43 924.54L1639.19 927.52M1751.51 902.77L1761.27 905.75M1873.6 881L1883.36 883.97"/>
<g class="sf">
<path fill="#ff5000" d="M1517.9 671.03L1578.94 647.33L1546.2 637.78L1485.16 661.44Z"/>
<path fill="#ff5000" d="M1550.64 680.52L1611.68 656.8L1578.94 647.33L1517.9 671.03Z"/>
<path fill="#ffaf00" d="M1456.85 695.67L1517.9 671.03L1485.16 661.44L1424.11 686.06Z"/>
<path fill="#ff4000" d="M1583.38 689.9L1644.42 666.13L1611.68 656.8L1550.64 680.52Z"/>
<path fill="#ffaf00" d="M1489.59 705.2L1550.64 680.52L1517.9 671.03L1456.85 695.67Z"/>
<path fill="#efff10" d="M1395.81 721.52L1456.85 695.67L1424.11 686.06L1363.07 711.88Z"/>
<path fill="#ff4000" d="M1616.12 699.11L1677.16 675.29L1644.42 666.13L1583.38 689.9Z"/>
<path fill="#ff9f00" d="M1522.33 714.63L1583.38 689.9L1550.64 680.52L1489.59 705.2Z"/>
<path fill="#efff10" d="M1428.55 731.09L1489.59 705.2L1456.85 695.67L1395.81 721.52Z"/>
<path fill="#ff4000" d="M1648.86 708.07L1709.9 684.17L1677.16 675.29L1616.12 699.11Z"/>
<path fill="#70ff8f" d="M1334.77 748.96L1395.81 721.52L1363.07 711.88L1302.03 739.28Z"/>
<path fill="#ff9f00" d="M1555.07 723.89L1616.12 699.11L1583.38 689.9L1522.33 714.63Z"/>
<path fill="#efff10" d="M1461.29 740.56L1522.33 714.63L1489.59 705.2L1428.55 731.09Z"/>
<path fill="#ff3000" d="M1681.6 716.62L1742.64 692.63L1709.9 684.17L1648.86 708.07Z"/>
<path fill="#70ff8f" d="M1367.51 758.57L1428.55 731.09L1395.81 721.52L1334.77 748.96Z"/>
<path fill="#ff9f00" d="M1587.81 732.92L1648.86 708.07L1616.12 699.11L1555.07 723.89Z"/>
<path fill="#00efff" d="M1273.73 778.63L1334.77 748.96L1302.03 739.28L1240.99 768.91Z"/>
<path fill="#efff10" d="M1494.03 749.89L1555.07 723.89L1522.33 714.63L1461.29 740.56Z"/>
<path fill="#ff2000" d="M1714.34 724.48L1775.38 700.35L1742.64 692.63L1681.6 716.62Z"/>
<path fill="#80ff80" d="M1400.25 768.1L1461.29 740.56L1428.55 731.09L1367.51 758.57Z"/>
<path fill="#ff8f00" d="M1620.55 741.59L1681.6 716.62L1648.86 708.07L1587.81 732.92Z"/>
<path fill="#00efff" d="M1306.47 788.29L1367.51 758.57L1334.77 748.96L1273.73 778.63Z"/>
<path fill="#ffff00" d="M1526.77 759.01L1587.81 732.92L1555.07 723.89L1494.03 749.89Z"/>
<path fill="#ff1000" d="M1747.08 730.99L1808.12 706.61L1775.38 700.35L1714.34 724.48Z"/>
<path fill="#0050ff" d="M1212.68 811.8L1273.73 778.63L1240.99 768.91L1179.94 802.03Z"/>
<path fill="#80ff80" d="M1432.99 777.49L1494.03 749.89L1461.29 740.56L1400.25 768.1Z"/>
<path fill="#ff8000" d="M1653.29 749.61L1714.34 724.48L1681.6 716.62L1620.55 741.59Z"/>
<path fill="#00efff" d="M1339.21 797.88L1400.25 768.1L1367.51 758.57L1306.47 788.29Z"/>
<path fill="#ffff00" d="M1559.51 767.78L1620.55 741.59L1587.81 732.92L1526.77 759.01Z"/>
<path fill="#df0000" d="M1779.82 734.19L1840.86 709.35L1808.12 706.61L1747.08 730.99Z"/>
<path fill="#0050ff" d="M1245.42 821.52L1306.47 788.29L1273.73 778.63L1212.68 811.8Z"/>
<path fill="#80ff80" d="M1465.73 786.7L1526.77 759.01L1494.03 749.89L1432.99 777.49Z"/>
<path fill="#ff7000" d="M1686.03 756.37L1747.08 730.99L1714.34 724.48L1653.29 749.61Z"/>
<path fill="#00008f" d="M1151.64 851.72L1212.68 811.8L1179.94 802.03L1118.9 841.89Z"/>
<path fill="#00ffff" d="M1371.95 807.35L1432.99 777.49L1400.25 768.1L1339.21 797.88Z"/>
<path fill="#ffef00" d="M1592.25 775.97L1653.29 749.61L1620.55 741.59L1559.51 767.78Z"/>
<path fill="#0060ff" d="M1278.16 831.18L1339.21 797.88L1306.47 788.29L1245.42 821.52Z"/>
<path fill="#8fff70" d="M1498.47 795.6L1559.51 767.78L1526.77 759.01L1465.73 786.7Z"/>
<path fill="#ff4000" d="M1718.77 760.07L1779.82 734.19L1747.08 730.99L1686.03 756.37Z"/>
<path fill="#00008f" d="M1184.38 861.52L1245.42 821.52L1212.68 811.8L1151.64 851.72Z"/>
<path fill="#00ffff" d="M1404.69 816.66L1465.73 786.7L1432.99 777.49L1371.95 807.35Z"/>
<path fill="#ffdf00" d="M1624.99 783.01L1686.03 756.37L1653.29 749.61L1592.25 775.97Z"/>
<path fill="#0060ff" d="M1310.9 840.74L1371.95 807.35L1339.21 797.88L1278.16 831.18Z"/>
<path fill="#8fff70" d="M1531.21 803.98L1592.25 775.97L1559.51 767.78L1498.47 795.6Z"/>
<path fill="#00008f" d="M1217.12 871.27L1278.16 831.18L1245.42 821.52L1184.38 861.52Z"/>
<path fill="#00ffff" d="M1437.43 825.71L1498.47 795.6L1465.73 786.7L1404.69 816.66Z"/>
<path fill="#ffaf00" d="M1657.73 787.27L1718.77 760.07L1686.03 756.37L1624.99 783.01Z"/>
<path fill="#0060ff" d="M1343.64 850.18L1404.69 816.66L1371.95 807.35L1310.9 840.74Z"/>
<path fill="#afff50" d="M1563.95 811.33L1624.99 783.01L1592.25 775.97L1531.21 803.98Z"/>
<path fill="#00008f" d="M1249.86 880.96L1310.9 840.74L1278.16 831.18L1217.12 871.27Z"/>
<path fill="#10ffef" d="M1470.17 834.3L1531.21 803.98L1498.47 795.6L1437.43 825.71Z"/>
<path fill="#0060ff" d="M1376.38 859.39L1437.43 825.71L1404.69 816.66L1343.64 850.18Z"/>
<path fill="#cfff30" d="M1596.69 816.19L1657.73 787.27L1624.99 783.01L1563.95 811.33Z"/>
<path fill="#00008f" d="M1282.6 890.55L1343.64 850.18L1310.9 840.74L1249.86 880.96Z"/>
<path fill="#20ffdf" d="M1502.91 842.01L1563.95 811.33L1531.21 803.98L1470.17 834.3Z"/>
<path fill="#0070ff" d="M1409.12 868.24L1470.17 834.3L1437.43 825.71L1376.38 859.39Z"/>
<path fill="#00008f" d="M1315.34 899.99L1376.38 859.39L1343.64 850.18L1282.6 890.55Z"/>
<path fill="#40ffbf" d="M1535.65 847.55L1596.69 816.19L1563.95 811.33L1502.91 842.01Z"/>
<path fill="#0080ff" d="M1441.86 876.36L1502.91 842.01L1470.17 834.3L1409.12 868.24Z"/>
<path fill="#00009f" d="M1348.08 909.17L1409.12 868.24L1376.38 859.39L1315.34 899.99Z"/>
<path fill="#008fff" d="M1474.6 882.72L1535.65 847.55L1502.91 842.01L1441.86 876.36Z"/>
<path fill="#00009f" d="M1380.82 917.84L1441.86 876.36L1409.12 868.24L1348.08 909.17Z"/>
<path fill="#0000af" d="M1413.56 925.26L1474.6 882.72L1441.86 876.36L1380.82 917.84Z"/>
</g>
<text class="tk e" transform="translate(1106.6 861.6) scale(0.95 1)">0.1</text>
<text class="tk e" transform="translate(1106.6 807.15) scale(0.95 1)">0.2</text>
<text class="tk e" transform="translate(1106.6 752.7) scale(0.95 1)">0.3</text>
<text class="tk e" transform="translate(1106.6 698.25) scale(0.95 1)">0.4</text>
<text class="tk e" transform="translate(1106.6 643.8) scale(0.95 1)">0.5</text>
<text class="tk e" transform="translate(1433.8 976.8) scale(0.95 1)">0</text>
<text class="tk e" transform="translate(1368.32 956.84) scale(0.95 1)">0.2</text>
<text class="tk e" transform="translate(1302.84 936.88) scale(0.95 1)">0.4</text>
<text class="tk e" transform="translate(1237.36 916.92) scale(0.95 1)">0.6</text>
<text class="tk e" transform="translate(1171.88 896.96) scale(0.95 1)">0.8</text>
<text class="tk e" transform="translate(1106.4 877) scale(0.95 1)">1</text>
<text class="tk m" transform="translate(1526.34 968.51) scale(0.95 1)">2</text>
<text class="tk m" transform="translate(1648.43 946.74) scale(0.95 1)">4</text>
<text class="tk m" transform="translate(1770.51 924.97) scale(0.95 1)">6</text>
<text class="tk m" transform="translate(1892.6 903.2) scale(0.95 1)">8</text>
<text class="tk" transform="translate(1844 968) scale(0.95 1)">x 10<tspan class="sup" dy="-11.2" dx="-0.3">−</tspan><tspan class="sup2">4</tspan></text>
<text class="al" transform="translate(1060 751) rotate(-90)" text-anchor="middle">R<tspan class="sb" dy="10">01</tspan></text>
<text class="gk" x="1246" y="1001.7"><tspan font-size="28.5">ζ</tspan><tspan class="sb" dy="12.4">h1</tspan></text>
<text class="gk" x="1631" y="1008">β<tspan class="sb" dy="11.6">h1</tspan></text>
<rect x="1889.1" y="563" width="22.7" height="396.6" fill="#fff"/>
<rect x="1890.1" y="950.45" width="20.7" height="6.75" fill="#00008f"/>
<rect x="1890.1" y="944.3" width="20.7" height="6.75" fill="#00009f"/>
<rect x="1890.1" y="938.15" width="20.7" height="6.75" fill="#0000af"/>
<rect x="1890.1" y="932" width="20.7" height="6.75" fill="#0000bf"/>
<rect x="1890.1" y="925.85" width="20.7" height="6.75" fill="#0000cf"/>
<rect x="1890.1" y="919.7" width="20.7" height="6.75" fill="#0000df"/>
<rect x="1890.1" y="913.55" width="20.7" height="6.75" fill="#0000ef"/>
<rect x="1890.1" y="907.4" width="20.7" height="6.75" fill="#0000ff"/>
<rect x="1890.1" y="901.25" width="20.7" height="6.75" fill="#0010ff"/>
<rect x="1890.1" y="895.1" width="20.7" height="6.75" fill="#0020ff"/>
<rect x="1890.1" y="888.95" width="20.7" height="6.75" fill="#0030ff"/>
<rect x="1890.1" y="882.8" width="20.7" height="6.75" fill="#0040ff"/>
<rect x="1890.1" y="876.65" width="20.7" height="6.75" fill="#0050ff"/>
<rect x="1890.1" y="870.5" width="20.7" height="6.75" fill="#0060ff"/>
<rect x="1890.1" y="864.35" width="20.7" height="6.75" fill="#0070ff"/>
<rect x="1890.1" y="858.2" width="20.7" height="6.75" fill="#0080ff"/>
<rect x="1890.1" y="852.05" width="20.7" height="6.75" fill="#008fff"/>
<rect x="1890.1" y="845.9" width="20.7" height="6.75" fill="#009fff"/>
<rect x="1890.1" y="839.75" width="20.7" height="6.75" fill="#00afff"/>
<rect x="1890.1" y="833.6" width="20.7" height="6.75" fill="#00bfff"/>
<rect x="1890.1" y="827.45" width="20.7" height="6.75" fill="#00cfff"/>
<rect x="1890.1" y="821.3" width="20.7" height="6.75" fill="#00dfff"/>
<rect x="1890.1" y="815.15" width="20.7" height="6.75" fill="#00efff"/>
<rect x="1890.1" y="809" width="20.7" height="6.75" fill="#00ffff"/>
<rect x="1890.1" y="802.85" width="20.7" height="6.75" fill="#10ffef"/>
<rect x="1890.1" y="796.7" width="20.7" height="6.75" fill="#20ffdf"/>
<rect x="1890.1" y="790.55" width="20.7" height="6.75" fill="#30ffcf"/>
<rect x="1890.1" y="784.4" width="20.7" height="6.75" fill="#40ffbf"/>
<rect x="1890.1" y="778.25" width="20.7" height="6.75" fill="#50ffaf"/>
<rect x="1890.1" y="772.1" width="20.7" height="6.75" fill="#60ff9f"/>
<rect x="1890.1" y="765.95" width="20.7" height="6.75" fill="#70ff8f"/>
<rect x="1890.1" y="759.8" width="20.7" height="6.75" fill="#80ff80"/>
<rect x="1890.1" y="753.65" width="20.7" height="6.75" fill="#8fff70"/>
<rect x="1890.1" y="747.5" width="20.7" height="6.75" fill="#9fff60"/>
<rect x="1890.1" y="741.35" width="20.7" height="6.75" fill="#afff50"/>
<rect x="1890.1" y="735.2" width="20.7" height="6.75" fill="#bfff40"/>
<rect x="1890.1" y="729.05" width="20.7" height="6.75" fill="#cfff30"/>
<rect x="1890.1" y="722.9" width="20.7" height="6.75" fill="#dfff20"/>
<rect x="1890.1" y="716.75" width="20.7" height="6.75" fill="#efff10"/>
<rect x="1890.1" y="710.6" width="20.7" height="6.75" fill="#ffff00"/>
<rect x="1890.1" y="704.45" width="20.7" height="6.75" fill="#ffef00"/>
<rect x="1890.1" y="698.3" width="20.7" height="6.75" fill="#ffdf00"/>
<rect x="1890.1" y="692.15" width="20.7" height="6.75" fill="#ffcf00"/>
<rect x="1890.1" y="686" width="20.7" height="6.75" fill="#ffbf00"/>
<rect x="1890.1" y="679.85" width="20.7" height="6.75" fill="#ffaf00"/>
<rect x="1890.1" y="673.7" width="20.7" height="6.75" fill="#ff9f00"/>
<rect x="1890.1" y="667.55" width="20.7" height="6.75" fill="#ff8f00"/>
<rect x="1890.1" y="661.4" width="20.7" height="6.75" fill="#ff8000"/>
<rect x="1890.1" y="655.25" width="20.7" height="6.75" fill="#ff7000"/>
<rect x="1890.1" y="649.1" width="20.7" height="6.75" fill="#ff6000"/>
<rect x="1890.1" y="642.95" width="20.7" height="6.75" fill="#ff5000"/>
<rect x="1890.1" y="636.8" width="20.7" height="6.75" fill="#ff4000"/>
<rect x="1890.1" y="630.65" width="20.7" height="6.75" fill="#ff3000"/>
<rect x="1890.1" y="624.5" width="20.7" height="6.75" fill="#ff2000"/>
<rect x="1890.1" y="618.35" width="20.7" height="6.75" fill="#ff1000"/>
<rect x="1890.1" y="612.2" width="20.7" height="6.75" fill="#ff0000"/>
<rect x="1890.1" y="606.05" width="20.7" height="6.75" fill="#ef0000"/>
<rect x="1890.1" y="599.9" width="20.7" height="6.75" fill="#df0000"/>
<rect x="1890.1" y="593.75" width="20.7" height="6.75" fill="#cf0000"/>
<rect x="1890.1" y="587.6" width="20.7" height="6.75" fill="#bf0000"/>
<rect x="1890.1" y="581.45" width="20.7" height="6.75" fill="#af0000"/>
<rect x="1890.1" y="575.3" width="20.7" height="6.75" fill="#9f0000"/>
<rect x="1890.1" y="569.15" width="20.7" height="6.75" fill="#8f0000"/>
<rect x="1890.1" y="563" width="20.7" height="6.75" fill="#800000"/>
<text class="tk" transform="translate(1913.5 931.93) scale(0.95 1)">0.15</text>
<text class="tk" transform="translate(1913.5 858.96) scale(0.95 1)">0.2</text>
<text class="tk" transform="translate(1913.5 785.99) scale(0.95 1)">0.25</text>
<text class="tk" transform="translate(1913.5 713.02) scale(0.95 1)">0.3</text>
<text class="tk" transform="translate(1913.5 640.05) scale(0.95 1)">0.35</text>
<path class="ct" d="M1890.1 924.93h3.7M1910.8 924.93h-3.7M1890.1 851.96h3.7M1910.8 851.96h-3.7M1890.1 778.99h3.7M1910.8 778.99h-3.7M1890.1 706.02h3.7M1910.8 706.02h-3.7M1890.1 633.05h3.7M1910.8 633.05h-3.7"/>
<path class="cb" d="M1890.1 563H1910.8V956.6H1890.1Z"/>
<text class="cap" x="1094" y="1066" textLength="805.5" lengthAdjust="spacingAndGlyphs">(d) Impact of transmission rate and recovery rate on <tspan class="it">R</tspan><tspan class="cs" dy="5">01</tspan></text>
</g>
<g>
<path class="gr" d="M550.05 1503.35L242.95 1409.75M650.2 1485.4L343.1 1391.8M750.35 1467.45L443.25 1373.85M296.35 1474.5L696.95 1402.7M142.8 1427.7L543.4 1355.9M242.95 1409.75L242.95 1206.75M343.1 1391.8L343.1 1188.8M443.25 1373.85L443.25 1170.85M543.4 1355.9L543.4 1152.9M142.8 1387.1L543.4 1315.3M142.8 1346.5L543.4 1274.7M142.8 1305.9L543.4 1234.1M142.8 1265.3L543.4 1193.5M142.8 1224.7L543.4 1152.9M850.5 1449.5L850.5 1246.5M696.95 1402.7L696.95 1199.7M850.5 1408.9L543.4 1315.3M850.5 1368.3L543.4 1274.7M850.5 1327.7L543.4 1234.1M850.5 1287.1L543.4 1193.5M850.5 1246.5L543.4 1152.9"/>
<path class="gr2" d="M850.5 1449.5L543.4 1355.9"/>
<path class="ax" d="M142.8 1224.7L142.8 1427.7L449.9 1521.3L850.5 1449.5M142.8 1427.7L132.8 1424.8M142.8 1387.1L132.8 1384.2M142.8 1346.5L132.8 1343.6M142.8 1305.9L132.8 1303M142.8 1265.3L132.8 1262.4M142.8 1224.7L132.8 1221.8M449.9 1521.3L439.86 1523.1M296.35 1474.5L286.31 1476.3M142.8 1427.7L132.76 1429.5M449.9 1521.3L459.66 1524.27M550.05 1503.35L559.81 1506.32M650.2 1485.4L659.96 1488.37M750.35 1467.45L760.11 1470.42M850.5 1449.5L860.26 1452.47"/>
<g class="sf">
<path fill="#df0000" d="M524.03 1199.66L574.11 1175.82L543.4 1165.89L493.32 1189.76Z"/>
<path fill="#df0000" d="M554.75 1209.68L604.82 1185.9L574.11 1175.82L524.03 1199.66Z"/>
<path fill="#ff4000" d="M473.96 1224.59L524.03 1199.66L493.32 1189.76L443.25 1214.74Z"/>
<path fill="#df0000" d="M585.45 1219.89L635.53 1196.16L604.82 1185.9L554.75 1209.68Z"/>
<path fill="#ff4000" d="M504.67 1234.57L554.75 1209.68L524.03 1199.66L473.96 1224.59Z"/>
<path fill="#ffaf00" d="M423.88 1250.93L473.96 1224.59L443.25 1214.74L393.18 1241.11Z"/>
<path fill="#ef0000" d="M616.16 1230.36L666.24 1206.71L635.53 1196.16L585.45 1219.89Z"/>
<path fill="#ff4000" d="M535.38 1244.71L585.45 1219.89L554.75 1209.68L504.67 1234.57Z"/>
<path fill="#ffaf00" d="M454.6 1260.85L504.67 1234.57L473.96 1224.59L423.88 1250.93Z"/>
<path fill="#dfff20" d="M373.81 1279.1L423.88 1250.93L393.18 1241.11L343.1 1269.34Z"/>
<path fill="#ef0000" d="M646.88 1241.25L696.95 1217.7L666.24 1206.71L616.16 1230.36Z"/>
<path fill="#ff5000" d="M566.09 1255.1L616.16 1230.36L585.45 1219.89L535.38 1244.71Z"/>
<path fill="#ffaf00" d="M485.3 1270.92L535.38 1244.71L504.67 1234.57L454.6 1260.85Z"/>
<path fill="#cfff30" d="M404.52 1288.96L454.6 1260.85L423.88 1250.93L373.81 1279.1Z"/>
<path fill="#50ffaf" d="M323.74 1309.87L373.81 1279.1L343.1 1269.34L293.03 1300.16Z"/>
<path fill="#ff0000" d="M677.58 1252.84L727.66 1229.44L696.95 1217.7L646.88 1241.25Z"/>
<path fill="#ff5000" d="M596.8 1265.87L646.88 1241.25L616.16 1230.36L566.09 1255.1Z"/>
<path fill="#ffbf00" d="M516.01 1281.22L566.09 1255.1L535.38 1244.71L485.3 1270.92Z"/>
<path fill="#cfff30" d="M435.23 1298.96L485.3 1270.92L454.6 1260.85L404.52 1288.96Z"/>
<path fill="#50ffaf" d="M354.45 1319.66L404.52 1288.96L373.81 1279.1L323.74 1309.87Z"/>
<path fill="#ff2000" d="M708.29 1265.76L758.37 1242.62L727.66 1229.44L677.58 1252.84Z"/>
<path fill="#00afff" d="M273.66 1344.69L323.74 1309.87L293.03 1300.16L242.95 1335.05Z"/>
<path fill="#ff6000" d="M627.51 1277.3L677.58 1252.84L646.88 1241.25L596.8 1265.87Z"/>
<path fill="#ffbf00" d="M546.73 1291.87L596.8 1265.87L566.09 1255.1L516.01 1281.22Z"/>
<path fill="#cfff30" d="M465.94 1309.16L516.01 1281.22L485.3 1270.92L435.23 1298.96Z"/>
<path fill="#50ffaf" d="M385.15 1329.58L435.23 1298.96L404.52 1288.96L354.45 1319.66Z"/>
<path fill="#ff4000" d="M739 1281.74L789.08 1259.05L758.37 1242.62L708.29 1265.76Z"/>
<path fill="#00afff" d="M304.37 1354.41L354.45 1319.66L323.74 1309.87L273.66 1344.69Z"/>
<path fill="#ff8000" d="M658.22 1289.96L708.29 1265.76L677.58 1252.84L627.51 1277.3Z"/>
<path fill="#0000cf" d="M223.58 1387.36L273.66 1344.69L242.95 1335.05L192.88 1377.79Z"/>
<path fill="#ffcf00" d="M577.43 1303.12L627.51 1277.3L596.8 1265.87L546.73 1291.87Z"/>
<path fill="#bfff40" d="M496.65 1319.68L546.73 1291.87L516.01 1281.22L465.94 1309.16Z"/>
<path fill="#40ffbf" d="M415.87 1339.66L465.94 1309.16L435.23 1298.96L385.15 1329.58Z"/>
<path fill="#ffaf00" d="M769.71 1307.66L819.79 1286.12L789.08 1259.05L739 1281.74Z"/>
<path fill="#009fff" d="M335.08 1364.22L385.15 1329.58L354.45 1319.66L304.37 1354.41Z"/>
<path fill="#ff9f00" d="M688.93 1305.45L739 1281.74L708.29 1265.76L658.22 1289.96Z"/>
<path fill="#0000cf" d="M254.29 1396.97L304.37 1354.41L273.66 1344.69L223.58 1387.36Z"/>
<path fill="#ffdf00" d="M608.14 1315.49L658.22 1289.96L627.51 1277.3L577.43 1303.12Z"/>
<path fill="#bfff40" d="M527.36 1330.72L577.43 1303.12L546.73 1291.87L496.65 1319.68Z"/>
<path fill="#40ffbf" d="M446.58 1350.02L496.65 1319.68L465.94 1309.16L415.87 1339.66Z"/>
<path fill="#009fff" d="M365.79 1374.17L415.87 1339.66L385.15 1329.58L335.08 1364.22Z"/>
<path fill="#ffff00" d="M719.64 1330.14L769.71 1307.66L739 1281.74L688.93 1305.45Z"/>
<path fill="#0000cf" d="M285 1406.65L335.08 1364.22L304.37 1354.41L254.29 1396.97Z"/>
<path fill="#ffff00" d="M638.86 1330.44L688.93 1305.45L658.22 1289.96L608.14 1315.49Z"/>
<path fill="#afff50" d="M558.07 1342.78L608.14 1315.49L577.43 1303.12L527.36 1330.72Z"/>
<path fill="#30ffcf" d="M477.29 1360.84L527.36 1330.72L496.65 1319.68L446.58 1350.02Z"/>
<path fill="#009fff" d="M396.5 1384.35L446.58 1350.02L415.87 1339.66L365.79 1374.17Z"/>
<path fill="#0000cf" d="M315.71 1416.43L365.79 1374.17L335.08 1364.22L285 1406.65Z"/>
<path fill="#9fff60" d="M669.56 1353.8L719.64 1330.14L688.93 1305.45L638.86 1330.44Z"/>
<path fill="#8fff70" d="M588.78 1357.14L638.86 1330.44L608.14 1315.49L558.07 1342.78Z"/>
<path fill="#20ffdf" d="M508 1372.54L558.07 1342.78L527.36 1330.72L477.29 1360.84Z"/>
<path fill="#008fff" d="M427.21 1394.9L477.29 1360.84L446.58 1350.02L396.5 1384.35Z"/>
<path fill="#0000cf" d="M346.42 1426.36L396.5 1384.35L365.79 1374.17L315.71 1416.43Z"/>
<path fill="#40ffbf" d="M619.49 1379.02L669.56 1353.8L638.86 1330.44L588.78 1357.14Z"/>
<path fill="#10ffef" d="M538.71 1386.23L588.78 1357.14L558.07 1342.78L508 1372.54Z"/>
<path fill="#008fff" d="M457.92 1406.17L508 1372.54L477.29 1360.84L427.21 1394.9Z"/>
<path fill="#0000bf" d="M377.13 1436.57L427.21 1394.9L396.5 1384.35L346.42 1426.36Z"/>
<path fill="#00bfff" d="M569.41 1406.43L619.49 1379.02L588.78 1357.14L538.71 1386.23Z"/>
<path fill="#0070ff" d="M488.63 1419.06L538.71 1386.23L508 1372.54L457.92 1406.17Z"/>
<path fill="#0000bf" d="M407.84 1447.27L457.92 1406.17L427.21 1394.9L377.13 1436.57Z"/>
<path fill="#0040ff" d="M519.34 1437.28L569.41 1406.43L538.71 1386.23L488.63 1419.06Z"/>
<path fill="#0000af" d="M438.55 1459.13L488.63 1419.06L457.92 1406.17L407.84 1447.27Z"/>
<path fill="#00008f" d="M469.26 1474.76L519.34 1437.28L488.63 1419.06L438.55 1459.13Z"/>
</g>
<text class="tk e" transform="translate(130.5 1431.9) scale(0.95 1)">0.2</text>
<text class="tk e" transform="translate(130.5 1391.3) scale(0.95 1)">0.4</text>
<text class="tk e" transform="translate(130.5 1350.7) scale(0.95 1)">0.6</text>
<text class="tk e" transform="translate(130.5 1310.1) scale(0.95 1)">0.8</text>
<text class="tk e" transform="translate(130.5 1269.5) scale(0.95 1)">1</text>
<text class="tk e" transform="translate(130.5 1228.9) scale(0.95 1)">1.2</text>
<text class="tk e" transform="translate(437.4 1540.9) scale(0.95 1)">0</text>
<text class="tk e" transform="translate(283.85 1494.1) scale(0.95 1)">0.5</text>
<text class="tk e" transform="translate(130.3 1447.3) scale(0.95 1)">1</text>
<text class="tk m" transform="translate(466.9 1542.4) scale(0.95 1)">0</text>
<text class="tk m" transform="translate(567.05 1524.45) scale(0.95 1)">2</text>
<text class="tk m" transform="translate(667.2 1506.5) scale(0.95 1)">4</text>
<text class="tk m" transform="translate(767.35 1488.55) scale(0.95 1)">6</text>
<text class="tk m" transform="translate(867.5 1470.6) scale(0.95 1)">8</text>
<text class="tk" transform="translate(822.8 1533) scale(0.95 1)">x 10<tspan class="sup" dy="-11.2" dx="-0.3">−</tspan><tspan class="sup2">4</tspan></text>
<text class="al" transform="translate(84.8 1328) rotate(-90)" text-anchor="middle">R<tspan class="sb" dy="10">02</tspan></text>
<text class="gk" x="259" y="1563.3"><tspan font-size="26.2">ω</tspan><tspan class="sb" dy="10.8">v2</tspan></text>
<text class="gk" x="623" y="1568.6">β<tspan class="sb" dy="11.6">h2</tspan></text>
<rect x="864.7" y="1151.8" width="21" height="371" fill="#fff"/>
<rect x="865.7" y="1514.05" width="19" height="6.35" fill="#00008f"/>
<rect x="865.7" y="1508.3" width="19" height="6.35" fill="#00009f"/>
<rect x="865.7" y="1502.55" width="19" height="6.35" fill="#0000af"/>
<rect x="865.7" y="1496.8" width="19" height="6.35" fill="#0000bf"/>
<rect x="865.7" y="1491.05" width="19" height="6.35" fill="#0000cf"/>
<rect x="865.7" y="1485.3" width="19" height="6.35" fill="#0000df"/>
<rect x="865.7" y="1479.55" width="19" height="6.35" fill="#0000ef"/>
<rect x="865.7" y="1473.8" width="19" height="6.35" fill="#0000ff"/>
<rect x="865.7" y="1468.05" width="19" height="6.35" fill="#0010ff"/>
<rect x="865.7" y="1462.3" width="19" height="6.35" fill="#0020ff"/>
<rect x="865.7" y="1456.55" width="19" height="6.35" fill="#0030ff"/>
<rect x="865.7" y="1450.8" width="19" height="6.35" fill="#0040ff"/>
<rect x="865.7" y="1445.05" width="19" height="6.35" fill="#0050ff"/>
<rect x="865.7" y="1439.3" width="19" height="6.35" fill="#0060ff"/>
<rect x="865.7" y="1433.55" width="19" height="6.35" fill="#0070ff"/>
<rect x="865.7" y="1427.8" width="19" height="6.35" fill="#0080ff"/>
<rect x="865.7" y="1422.05" width="19" height="6.35" fill="#008fff"/>
<rect x="865.7" y="1416.3" width="19" height="6.35" fill="#009fff"/>
<rect x="865.7" y="1410.55" width="19" height="6.35" fill="#00afff"/>
<rect x="865.7" y="1404.8" width="19" height="6.35" fill="#00bfff"/>
<rect x="865.7" y="1399.05" width="19" height="6.35" fill="#00cfff"/>
<rect x="865.7" y="1393.3" width="19" height="6.35" fill="#00dfff"/>
<rect x="865.7" y="1387.55" width="19" height="6.35" fill="#00efff"/>
<rect x="865.7" y="1381.8" width="19" height="6.35" fill="#00ffff"/>
<rect x="865.7" y="1376.05" width="19" height="6.35" fill="#10ffef"/>
<rect x="865.7" y="1370.3" width="19" height="6.35" fill="#20ffdf"/>
<rect x="865.7" y="1364.55" width="19" height="6.35" fill="#30ffcf"/>
<rect x="865.7" y="1358.8" width="19" height="6.35" fill="#40ffbf"/>
<rect x="865.7" y="1353.05" width="19" height="6.35" fill="#50ffaf"/>
<rect x="865.7" y="1347.3" width="19" height="6.35" fill="#60ff9f"/>
<rect x="865.7" y="1341.55" width="19" height="6.35" fill="#70ff8f"/>
<rect x="865.7" y="1335.8" width="19" height="6.35" fill="#80ff80"/>
<rect x="865.7" y="1330.05" width="19" height="6.35" fill="#8fff70"/>
<rect x="865.7" y="1324.3" width="19" height="6.35" fill="#9fff60"/>
<rect x="865.7" y="1318.55" width="19" height="6.35" fill="#afff50"/>
<rect x="865.7" y="1312.8" width="19" height="6.35" fill="#bfff40"/>
<rect x="865.7" y="1307.05" width="19" height="6.35" fill="#cfff30"/>
<rect x="865.7" y="1301.3" width="19" height="6.35" fill="#dfff20"/>
<rect x="865.7" y="1295.55" width="19" height="6.35" fill="#efff10"/>
<rect x="865.7" y="1289.8" width="19" height="6.35" fill="#ffff00"/>
<rect x="865.7" y="1284.05" width="19" height="6.35" fill="#ffef00"/>
<rect x="865.7" y="1278.3" width="19" height="6.35" fill="#ffdf00"/>
<rect x="865.7" y="1272.55" width="19" height="6.35" fill="#ffcf00"/>
<rect x="865.7" y="1266.8" width="19" height="6.35" fill="#ffbf00"/>
<rect x="865.7" y="1261.05" width="19" height="6.35" fill="#ffaf00"/>
<rect x="865.7" y="1255.3" width="19" height="6.35" fill="#ff9f00"/>
<rect x="865.7" y="1249.55" width="19" height="6.35" fill="#ff8f00"/>
<rect x="865.7" y="1243.8" width="19" height="6.35" fill="#ff8000"/>
<rect x="865.7" y="1238.05" width="19" height="6.35" fill="#ff7000"/>
<rect x="865.7" y="1232.3" width="19" height="6.35" fill="#ff6000"/>
<rect x="865.7" y="1226.55" width="19" height="6.35" fill="#ff5000"/>
<rect x="865.7" y="1220.8" width="19" height="6.35" fill="#ff4000"/>
<rect x="865.7" y="1215.05" width="19" height="6.35" fill="#ff3000"/>
<rect x="865.7" y="1209.3" width="19" height="6.35" fill="#ff2000"/>
<rect x="865.7" y="1203.55" width="19" height="6.35" fill="#ff1000"/>
<rect x="865.7" y="1197.8" width="19" height="6.35" fill="#ff0000"/>
<rect x="865.7" y="1192.05" width="19" height="6.35" fill="#ef0000"/>
<rect x="865.7" y="1186.3" width="19" height="6.35" fill="#df0000"/>
<rect x="865.7" y="1180.55" width="19" height="6.35" fill="#cf0000"/>
<rect x="865.7" y="1174.8" width="19" height="6.35" fill="#bf0000"/>
<rect x="865.7" y="1169.05" width="19" height="6.35" fill="#af0000"/>
<rect x="865.7" y="1163.3" width="19" height="6.35" fill="#9f0000"/>
<rect x="865.7" y="1157.55" width="19" height="6.35" fill="#8f0000"/>
<rect x="865.7" y="1151.8" width="19" height="6.35" fill="#800000"/>
<text class="tk" transform="translate(887.4 1498.69) scale(0.95 1)">0.4</text>
<text class="tk" transform="translate(887.4 1452.6) scale(0.95 1)">0.5</text>
<text class="tk" transform="translate(887.4 1406.51) scale(0.95 1)">0.6</text>
<text class="tk" transform="translate(887.4 1360.43) scale(0.95 1)">0.7</text>
<text class="tk" transform="translate(887.4 1314.34) scale(0.95 1)">0.8</text>
<text class="tk" transform="translate(887.4 1268.26) scale(0.95 1)">0.9</text>
<text class="tk" transform="translate(887.4 1222.17) scale(0.95 1)">1</text>
<text class="tk" transform="translate(887.4 1176.08) scale(0.95 1)">1.1</text>
<path class="ct" d="M865.7 1491.69h3.7M884.7 1491.69h-3.7M865.7 1445.6h3.7M884.7 1445.6h-3.7M865.7 1399.51h3.7M884.7 1399.51h-3.7M865.7 1353.43h3.7M884.7 1353.43h-3.7M865.7 1307.34h3.7M884.7 1307.34h-3.7M865.7 1261.26h3.7M884.7 1261.26h-3.7M865.7 1215.17h3.7M884.7 1215.17h-3.7M865.7 1169.08h3.7M884.7 1169.08h-3.7"/>
<path class="cb" d="M865.7 1151.8H884.7V1519.8H865.7Z"/>
<text class="cap" x="5.5" y="1625.5" textLength="983" lengthAdjust="spacingAndGlyphs">(e) Impact of transmission rate and progression rate for vectors on <tspan class="it">R</tspan><tspan class="cs" dy="5">02</tspan></text>
</g>
<g>
<path class="gr" d="M1539.53 1503.45L1232.43 1409.85M1639.55 1485.6L1332.45 1392M1739.57 1467.75L1432.47 1374.15M1285.95 1474.5L1686.05 1403.1M1132.4 1427.7L1532.5 1356.3M1232.43 1409.85L1232.43 1206.45M1332.45 1392L1332.45 1188.6M1432.47 1374.15L1432.47 1170.75M1532.5 1356.3L1532.5 1152.9M1132.4 1359.9L1532.5 1288.5M1132.4 1292.1L1532.5 1220.7M1132.4 1224.3L1532.5 1152.9M1839.6 1449.9L1839.6 1246.5M1686.05 1403.1L1686.05 1199.7M1839.6 1382.1L1532.5 1288.5M1839.6 1314.3L1532.5 1220.7M1839.6 1246.5L1532.5 1152.9"/>
<path class="gr2" d="M1839.6 1449.9L1532.5 1356.3"/>
<path class="ax" d="M1132.4 1224.3L1132.4 1427.7L1439.5 1521.3L1839.6 1449.9M1132.4 1427.7L1122.4 1424.8M1132.4 1359.9L1122.4 1357M1132.4 1292.1L1122.4 1289.2M1132.4 1224.3L1122.4 1221.4M1439.5 1521.3L1429.46 1523.09M1285.95 1474.5L1275.91 1476.29M1132.4 1427.7L1122.36 1429.49M1439.5 1521.3L1449.26 1524.27M1539.53 1503.45L1549.28 1506.42M1639.55 1485.6L1649.31 1488.57M1739.57 1467.75L1749.33 1470.72M1839.6 1449.9L1849.36 1452.87"/>
<g class="sf">
<path fill="#50ffaf" d="M1513.2 1269.27L1563.21 1253.08L1532.5 1257.7L1482.49 1272.99Z"/>
<path fill="#9fff60" d="M1543.91 1267.01L1593.92 1250.01L1563.21 1253.08L1513.2 1269.27Z"/>
<path fill="#20ffdf" d="M1463.18 1286.01L1513.2 1269.27L1482.49 1272.99L1432.47 1288.76Z"/>
<path fill="#efff10" d="M1574.62 1265.8L1624.63 1248.07L1593.92 1250.01L1543.91 1267.01Z"/>
<path fill="#70ff8f" d="M1493.89 1284.61L1543.91 1267.01L1513.2 1269.27L1463.18 1286.01Z"/>
<path fill="#00efff" d="M1413.17 1303.43L1463.18 1286.01L1432.47 1288.76L1382.46 1305.12Z"/>
<path fill="#ffcf00" d="M1605.33 1265.4L1655.34 1247L1624.63 1248.07L1574.62 1265.8Z"/>
<path fill="#afff50" d="M1524.6 1284.18L1574.62 1265.8L1543.91 1267.01L1493.89 1284.61Z"/>
<path fill="#30ffcf" d="M1443.88 1302.97L1493.89 1284.61L1463.18 1286.01L1413.17 1303.43Z"/>
<path fill="#00afff" d="M1363.16 1321.75L1413.17 1303.43L1382.46 1305.12L1332.45 1322.28Z"/>
<path fill="#ff9f00" d="M1636.04 1265.65L1686.05 1246.62L1655.34 1247L1605.33 1265.4Z"/>
<path fill="#dfff20" d="M1555.31 1284.51L1605.33 1265.4L1574.62 1265.8L1524.6 1284.18Z"/>
<path fill="#60ff9f" d="M1474.59 1303.39L1524.6 1284.18L1493.89 1284.61L1443.88 1302.97Z"/>
<path fill="#00efff" d="M1393.87 1322.32L1443.88 1302.97L1413.17 1303.43L1363.16 1321.75Z"/>
<path fill="#0070ff" d="M1313.15 1341.34L1363.16 1321.75L1332.45 1322.28L1282.44 1340.54Z"/>
<path fill="#ff6000" d="M1666.75 1266.44L1716.76 1246.81L1686.05 1246.62L1636.04 1265.65Z"/>
<path fill="#ffdf00" d="M1586.02 1285.43L1636.04 1265.65L1605.33 1265.4L1555.31 1284.51Z"/>
<path fill="#9fff60" d="M1505.3 1304.51L1555.31 1284.51L1524.6 1284.18L1474.59 1303.39Z"/>
<path fill="#20ffdf" d="M1424.58 1323.69L1474.59 1303.39L1443.88 1302.97L1393.87 1322.32Z"/>
<path fill="#009fff" d="M1343.86 1343.09L1393.87 1322.32L1363.16 1321.75L1313.15 1341.34Z"/>
<path fill="#ff3000" d="M1697.46 1267.67L1747.47 1247.49L1716.76 1246.81L1666.75 1266.44Z"/>
<path fill="#0010ff" d="M1263.14 1362.92L1313.15 1341.34L1282.44 1340.54L1232.43 1360.55Z"/>
<path fill="#ffaf00" d="M1616.73 1286.86L1666.75 1266.44L1636.04 1265.65L1586.02 1285.43Z"/>
<path fill="#cfff30" d="M1536.01 1306.17L1586.02 1285.43L1555.31 1284.51L1505.3 1304.51Z"/>
<path fill="#50ffaf" d="M1455.29 1325.68L1505.3 1304.51L1474.59 1303.39L1424.58 1323.69Z"/>
<path fill="#00bfff" d="M1374.57 1345.53L1424.58 1323.69L1393.87 1322.32L1343.86 1343.09Z"/>
<path fill="#ff0000" d="M1728.17 1269.29L1778.18 1248.58L1747.47 1247.49L1697.46 1267.67Z"/>
<path fill="#0040ff" d="M1293.85 1366.06L1343.86 1343.09L1313.15 1341.34L1263.14 1362.92Z"/>
<path fill="#ff8000" d="M1647.44 1288.69L1697.46 1267.67L1666.75 1266.44L1616.73 1286.86Z"/>
<path fill="#0000af" d="M1213.12 1388.33L1263.14 1362.92L1232.43 1360.55L1182.41 1383.91Z"/>
<path fill="#ffff00" d="M1566.72 1308.28L1616.73 1286.86L1586.02 1285.43L1536.01 1306.17Z"/>
<path fill="#80ff80" d="M1486 1328.15L1536.01 1306.17L1505.3 1304.51L1455.29 1325.68Z"/>
<path fill="#00efff" d="M1405.28 1348.5L1455.29 1325.68L1424.58 1323.69L1374.57 1345.53Z"/>
<path fill="#cf0000" d="M1758.88 1271.25L1808.89 1250.02L1778.18 1248.58L1728.17 1269.29Z"/>
<path fill="#0060ff" d="M1324.56 1369.77L1374.57 1345.53L1343.86 1343.09L1293.85 1366.06Z"/>
<path fill="#ff5000" d="M1678.15 1290.89L1728.17 1269.29L1697.46 1267.67L1647.44 1288.69Z"/>
<path fill="#0000bf" d="M1243.83 1393.3L1293.85 1366.06L1263.14 1362.92L1213.12 1388.33Z"/>
<path fill="#ffcf00" d="M1597.43 1310.77L1647.44 1288.69L1616.73 1286.86L1566.72 1308.28Z"/>
<path fill="#9fff60" d="M1516.71 1331.03L1566.72 1308.28L1536.01 1306.17L1486 1328.15Z"/>
<path fill="#20ffdf" d="M1435.99 1351.9L1486 1328.15L1455.29 1325.68L1405.28 1348.5Z"/>
<path fill="#0080ff" d="M1355.27 1373.92L1405.28 1348.5L1374.57 1345.53L1324.56 1369.77Z"/>
<path fill="#ff2000" d="M1708.86 1293.4L1758.88 1271.25L1728.17 1269.29L1678.15 1290.89Z"/>
<path fill="#0000df" d="M1274.54 1398.66L1324.56 1369.77L1293.85 1366.06L1243.83 1393.3Z"/>
<path fill="#ff9f00" d="M1628.14 1313.59L1678.15 1290.89L1647.44 1288.69L1597.43 1310.77Z"/>
<path fill="#cfff30" d="M1547.42 1334.25L1597.43 1310.77L1566.72 1308.28L1516.71 1331.03Z"/>
<path fill="#40ffbf" d="M1466.7 1355.65L1516.71 1331.03L1486 1328.15L1435.99 1351.9Z"/>
<path fill="#009fff" d="M1385.98 1378.41L1435.99 1351.9L1405.28 1348.5L1355.27 1373.92Z"/>
<path fill="#0000ef" d="M1305.25 1404.33L1355.27 1373.92L1324.56 1369.77L1274.54 1398.66Z"/>
<path fill="#ff8000" d="M1658.85 1316.7L1708.86 1293.4L1678.15 1290.89L1628.14 1313.59Z"/>
<path fill="#efff10" d="M1578.13 1337.76L1628.14 1313.59L1597.43 1310.77L1547.42 1334.25Z"/>
<path fill="#60ff9f" d="M1497.41 1359.69L1547.42 1334.25L1516.71 1331.03L1466.7 1355.65Z"/>
<path fill="#00bfff" d="M1416.69 1383.19L1466.7 1355.65L1435.99 1351.9L1385.98 1378.41Z"/>
<path fill="#0010ff" d="M1335.96 1410.25L1385.98 1378.41L1355.27 1373.92L1305.25 1404.33Z"/>
<path fill="#ffdf00" d="M1608.84 1341.52L1658.85 1316.7L1628.14 1313.59L1578.13 1337.76Z"/>
<path fill="#80ff80" d="M1528.12 1363.98L1578.13 1337.76L1547.42 1334.25L1497.41 1359.69Z"/>
<path fill="#00dfff" d="M1447.4 1388.2L1497.41 1359.69L1466.7 1355.65L1416.69 1383.19Z"/>
<path fill="#0020ff" d="M1366.67 1416.37L1416.69 1383.19L1385.98 1378.41L1335.96 1410.25Z"/>
<path fill="#9fff60" d="M1558.83 1368.5L1608.84 1341.52L1578.13 1337.76L1528.12 1363.98Z"/>
<path fill="#00ffff" d="M1478.11 1393.43L1528.12 1363.98L1497.41 1359.69L1447.4 1388.2Z"/>
<path fill="#0040ff" d="M1397.38 1422.66L1447.4 1388.2L1416.69 1383.19L1366.67 1416.37Z"/>
<path fill="#10ffef" d="M1508.82 1398.83L1558.83 1368.5L1528.12 1363.98L1478.11 1393.43Z"/>
<path fill="#0050ff" d="M1428.09 1429.09L1478.11 1393.43L1447.4 1388.2L1397.38 1422.66Z"/>
<path fill="#0060ff" d="M1458.8 1435.66L1508.82 1398.83L1478.11 1393.43L1428.09 1429.09Z"/>
</g>
<text class="tk e" transform="translate(1120.1 1431.9) scale(0.95 1)">0</text>
<text class="tk e" transform="translate(1120.1 1364.1) scale(0.95 1)">0.5</text>
<text class="tk e" transform="translate(1120.1 1296.3) scale(0.95 1)">1</text>
<text class="tk e" transform="translate(1120.1 1228.5) scale(0.95 1)">1.5</text>
<text class="tk e" transform="translate(1427 1540.9) scale(0.95 1)">0</text>
<text class="tk e" transform="translate(1273.45 1494.1) scale(0.95 1)">0.5</text>
<text class="tk e" transform="translate(1119.9 1447.3) scale(0.95 1)">1</text>
<text class="tk m" transform="translate(1456.5 1542.4) scale(0.95 1)">0</text>
<text class="tk m" transform="translate(1556.53 1524.55) scale(0.95 1)">2</text>
<text class="tk m" transform="translate(1656.55 1506.7) scale(0.95 1)">4</text>
<text class="tk m" transform="translate(1756.57 1488.85) scale(0.95 1)">6</text>
<text class="tk m" transform="translate(1856.6 1471) scale(0.95 1)">8</text>
<text class="tk" transform="translate(1813.3 1533) scale(0.95 1)">x 10<tspan class="sup" dy="-11.2" dx="-0.3">−</tspan><tspan class="sup2">4</tspan></text>
<text class="al" transform="translate(1074.8 1328) rotate(-90)" text-anchor="middle">R<tspan class="sb" dy="10">02</tspan></text>
<text class="gk" x="1261" y="1564.2"><tspan font-size="24">ϕ</tspan><tspan class="sb" dy="10.8">2</tspan></text>
<text class="gk" x="1612" y="1568.6">β<tspan class="sb" dy="11.6">h2</tspan></text>
<rect x="1854" y="1151.8" width="20.9" height="371" fill="#fff"/>
<rect x="1855" y="1514.05" width="18.9" height="6.35" fill="#00008f"/>
<rect x="1855" y="1508.3" width="18.9" height="6.35" fill="#00009f"/>
<rect x="1855" y="1502.55" width="18.9" height="6.35" fill="#0000af"/>
<rect x="1855" y="1496.8" width="18.9" height="6.35" fill="#0000bf"/>
<rect x="1855" y="1491.05" width="18.9" height="6.35" fill="#0000cf"/>
<rect x="1855" y="1485.3" width="18.9" height="6.35" fill="#0000df"/>
<rect x="1855" y="1479.55" width="18.9" height="6.35" fill="#0000ef"/>
<rect x="1855" y="1473.8" width="18.9" height="6.35" fill="#0000ff"/>
<rect x="1855" y="1468.05" width="18.9" height="6.35" fill="#0010ff"/>
<rect x="1855" y="1462.3" width="18.9" height="6.35" fill="#0020ff"/>
<rect x="1855" y="1456.55" width="18.9" height="6.35" fill="#0030ff"/>
<rect x="1855" y="1450.8" width="18.9" height="6.35" fill="#0040ff"/>
<rect x="1855" y="1445.05" width="18.9" height="6.35" fill="#0050ff"/>
<rect x="1855" y="1439.3" width="18.9" height="6.35" fill="#0060ff"/>
<rect x="1855" y="1433.55" width="18.9" height="6.35" fill="#0070ff"/>
<rect x="1855" y="1427.8" width="18.9" height="6.35" fill="#0080ff"/>
<rect x="1855" y="1422.05" width="18.9" height="6.35" fill="#008fff"/>
<rect x="1855" y="1416.3" width="18.9" height="6.35" fill="#009fff"/>
<rect x="1855" y="1410.55" width="18.9" height="6.35" fill="#00afff"/>
<rect x="1855" y="1404.8" width="18.9" height="6.35" fill="#00bfff"/>
<rect x="1855" y="1399.05" width="18.9" height="6.35" fill="#00cfff"/>
<rect x="1855" y="1393.3" width="18.9" height="6.35" fill="#00dfff"/>
<rect x="1855" y="1387.55" width="18.9" height="6.35" fill="#00efff"/>
<rect x="1855" y="1381.8" width="18.9" height="6.35" fill="#00ffff"/>
<rect x="1855" y="1376.05" width="18.9" height="6.35" fill="#10ffef"/>
<rect x="1855" y="1370.3" width="18.9" height="6.35" fill="#20ffdf"/>
<rect x="1855" y="1364.55" width="18.9" height="6.35" fill="#30ffcf"/>
<rect x="1855" y="1358.8" width="18.9" height="6.35" fill="#40ffbf"/>
<rect x="1855" y="1353.05" width="18.9" height="6.35" fill="#50ffaf"/>
<rect x="1855" y="1347.3" width="18.9" height="6.35" fill="#60ff9f"/>
<rect x="1855" y="1341.55" width="18.9" height="6.35" fill="#70ff8f"/>
<rect x="1855" y="1335.8" width="18.9" height="6.35" fill="#80ff80"/>
<rect x="1855" y="1330.05" width="18.9" height="6.35" fill="#8fff70"/>
<rect x="1855" y="1324.3" width="18.9" height="6.35" fill="#9fff60"/>
<rect x="1855" y="1318.55" width="18.9" height="6.35" fill="#afff50"/>
<rect x="1855" y="1312.8" width="18.9" height="6.35" fill="#bfff40"/>
<rect x="1855" y="1307.05" width="18.9" height="6.35" fill="#cfff30"/>
<rect x="1855" y="1301.3" width="18.9" height="6.35" fill="#dfff20"/>
<rect x="1855" y="1295.55" width="18.9" height="6.35" fill="#efff10"/>
<rect x="1855" y="1289.8" width="18.9" height="6.35" fill="#ffff00"/>
<rect x="1855" y="1284.05" width="18.9" height="6.35" fill="#ffef00"/>
<rect x="1855" y="1278.3" width="18.9" height="6.35" fill="#ffdf00"/>
<rect x="1855" y="1272.55" width="18.9" height="6.35" fill="#ffcf00"/>
<rect x="1855" y="1266.8" width="18.9" height="6.35" fill="#ffbf00"/>
<rect x="1855" y="1261.05" width="18.9" height="6.35" fill="#ffaf00"/>
<rect x="1855" y="1255.3" width="18.9" height="6.35" fill="#ff9f00"/>
<rect x="1855" y="1249.55" width="18.9" height="6.35" fill="#ff8f00"/>
<rect x="1855" y="1243.8" width="18.9" height="6.35" fill="#ff8000"/>
<rect x="1855" y="1238.05" width="18.9" height="6.35" fill="#ff7000"/>
<rect x="1855" y="1232.3" width="18.9" height="6.35" fill="#ff6000"/>
<rect x="1855" y="1226.55" width="18.9" height="6.35" fill="#ff5000"/>
<rect x="1855" y="1220.8" width="18.9" height="6.35" fill="#ff4000"/>
<rect x="1855" y="1215.05" width="18.9" height="6.35" fill="#ff3000"/>
<rect x="1855" y="1209.3" width="18.9" height="6.35" fill="#ff2000"/>
<rect x="1855" y="1203.55" width="18.9" height="6.35" fill="#ff1000"/>
<rect x="1855" y="1197.8" width="18.9" height="6.35" fill="#ff0000"/>
<rect x="1855" y="1192.05" width="18.9" height="6.35" fill="#ef0000"/>
<rect x="1855" y="1186.3" width="18.9" height="6.35" fill="#df0000"/>
<rect x="1855" y="1180.55" width="18.9" height="6.35" fill="#cf0000"/>
<rect x="1855" y="1174.8" width="18.9" height="6.35" fill="#bf0000"/>
<rect x="1855" y="1169.05" width="18.9" height="6.35" fill="#af0000"/>
<rect x="1855" y="1163.3" width="18.9" height="6.35" fill="#9f0000"/>
<rect x="1855" y="1157.55" width="18.9" height="6.35" fill="#8f0000"/>
<rect x="1855" y="1151.8" width="18.9" height="6.35" fill="#800000"/>
<text class="tk" transform="translate(1876.6 1480.77) scale(0.95 1)">0.4</text>
<text class="tk" transform="translate(1876.6 1416.71) scale(0.95 1)">0.6</text>
<text class="tk" transform="translate(1876.6 1352.65) scale(0.95 1)">0.8</text>
<text class="tk" transform="translate(1876.6 1288.59) scale(0.95 1)">1</text>
<text class="tk" transform="translate(1876.6 1224.53) scale(0.95 1)">1.2</text>
<text class="tk" transform="translate(1876.6 1160.47) scale(0.95 1)">1.4</text>
<path class="ct" d="M1855 1473.77h3.7M1873.9 1473.77h-3.7M1855 1409.71h3.7M1873.9 1409.71h-3.7M1855 1345.65h3.7M1873.9 1345.65h-3.7M1855 1281.59h3.7M1873.9 1281.59h-3.7M1855 1217.53h3.7M1873.9 1217.53h-3.7M1855 1153.47h3.7M1873.9 1153.47h-3.7"/>
<path class="cb" d="M1855 1151.8H1873.9V1519.8H1855Z"/>
<text class="cap" x="1071" y="1625.5" textLength="832" lengthAdjust="spacingAndGlyphs">(f) Impact of transmission rate and vaccine efficacy on <tspan class="it">R</tspan><tspan class="cs" dy="5">02</tspan></text>
</g>
<g>
<path class="gr" d="M569.05 2062.85L262.15 1969.55M669.1 2045L362.2 1951.7M769.15 2027.15L462.25 1933.85M315.55 2034.05L715.75 1962.65M162.1 1987.4L562.3 1916M262.15 1969.55L262.15 1766.25M362.2 1951.7L362.2 1748.4M462.25 1933.85L462.25 1730.55M562.3 1916L562.3 1712.7M162.1 1936.57L562.3 1865.17M162.1 1885.75L562.3 1814.35M162.1 1834.92L562.3 1763.53M162.1 1784.1L562.3 1712.7M869.2 2009.3L869.2 1806M715.75 1962.65L715.75 1759.35M869.2 1958.47L562.3 1865.17M869.2 1907.65L562.3 1814.35M869.2 1856.83L562.3 1763.53M869.2 1806L562.3 1712.7"/>
<path class="gr2" d="M869.2 2009.3L562.3 1916"/>
<path class="ax" d="M162.1 1784.1L162.1 1987.4L469 2080.7L869.2 2009.3M162.1 1987.4L152.1 1984.5M162.1 1936.57L152.1 1933.67M162.1 1885.75L152.1 1882.85M162.1 1834.92L152.1 1832.02M162.1 1784.1L152.1 1781.2M469 2080.7L458.96 2082.49M315.55 2034.05L305.51 2035.84M162.1 1987.4L152.06 1989.19M469 2080.7L478.76 2083.67M569.05 2062.85L578.81 2065.82M669.1 2045L678.86 2047.97M769.15 2027.15L778.91 2030.12M869.2 2009.3L878.96 2012.27"/>
<g class="sf">
<path fill="#009fff" d="M542.97 1871.35L592.99 1858.08L562.3 1852.05L512.28 1865.1Z"/>
<path fill="#00afff" d="M573.66 1877.06L623.68 1863.54L592.99 1858.08L542.97 1871.35Z"/>
<path fill="#0080ff" d="M492.94 1884.94L542.97 1871.35L512.28 1865.1L462.25 1878.46Z"/>
<path fill="#00cfff" d="M604.35 1882.06L654.37 1868.24L623.68 1863.54L573.66 1877.06Z"/>
<path fill="#008fff" d="M523.63 1890.92L573.66 1877.06L542.97 1871.35L492.94 1884.94Z"/>
<path fill="#0060ff" d="M442.92 1898.94L492.94 1884.94L462.25 1878.46L412.23 1892.22Z"/>
<path fill="#00efff" d="M635.04 1886.1L685.06 1871.91L654.37 1868.24L604.35 1882.06Z"/>
<path fill="#00afff" d="M554.32 1896.24L604.35 1882.06L573.66 1877.06L523.63 1890.92Z"/>
<path fill="#0070ff" d="M473.61 1905.21L523.63 1890.92L492.94 1884.94L442.92 1898.94Z"/>
<path fill="#0030ff" d="M392.89 1913.48L442.92 1898.94L412.23 1892.22L362.2 1906.48Z"/>
<path fill="#20ffdf" d="M665.73 1888.73L715.75 1874.09L685.06 1871.91L635.04 1886.1Z"/>
<path fill="#00cfff" d="M585.01 1900.67L635.04 1886.1L604.35 1882.06L554.32 1896.24Z"/>
<path fill="#0080ff" d="M504.29 1910.88L554.32 1896.24L523.63 1890.92L473.61 1905.21Z"/>
<path fill="#0040ff" d="M423.58 1920.07L473.61 1905.21L442.92 1898.94L392.89 1913.48Z"/>
<path fill="#0000ff" d="M342.87 1928.77L392.89 1913.48L362.2 1906.48L312.18 1921.46Z"/>
<path fill="#60ff9f" d="M696.42 1889.22L746.44 1873.96L715.75 1874.09L665.73 1888.73Z"/>
<path fill="#00ffff" d="M615.7 1903.8L665.73 1888.73L635.04 1886.1L585.01 1900.67Z"/>
<path fill="#009fff" d="M534.99 1915.74L585.01 1900.67L554.32 1896.24L504.29 1910.88Z"/>
<path fill="#0060ff" d="M454.27 1926.13L504.29 1910.88L473.61 1905.21L423.58 1920.07Z"/>
<path fill="#0010ff" d="M373.56 1935.73L423.58 1920.07L392.89 1913.48L342.87 1928.77Z"/>
<path fill="#afff50" d="M727.11 1886.1L777.13 1869.98L746.44 1873.96L696.42 1889.22Z"/>
<path fill="#0000cf" d="M292.84 1945.25L342.87 1928.77L312.18 1921.46L262.15 1937.57Z"/>
<path fill="#30ffcf" d="M646.39 1904.95L696.42 1889.22L665.73 1888.73L615.7 1903.8Z"/>
<path fill="#00cfff" d="M565.67 1919.41L615.7 1903.8L585.01 1900.67L534.99 1915.74Z"/>
<path fill="#0070ff" d="M484.96 1931.46L534.99 1915.74L504.29 1910.88L454.27 1926.13Z"/>
<path fill="#0030ff" d="M404.25 1942.23L454.27 1926.13L423.58 1920.07L373.56 1935.73Z"/>
<path fill="#ffbf00" d="M757.8 1875.98L807.82 1858.52L777.13 1869.98L727.11 1886.1Z"/>
<path fill="#0000df" d="M323.53 1952.65L373.56 1935.73L342.87 1928.77L292.84 1945.25Z"/>
<path fill="#80ff80" d="M677.08 1902.75L727.11 1886.1L696.42 1889.22L646.39 1904.95Z"/>
<path fill="#00008f" d="M242.81 1964.03L292.84 1945.25L262.15 1937.57L212.12 1955.86Z"/>
<path fill="#00ffff" d="M596.37 1921.27L646.39 1904.95L615.7 1903.8L565.67 1919.41Z"/>
<path fill="#009fff" d="M515.65 1935.73L565.67 1919.41L534.99 1915.74L484.96 1931.46Z"/>
<path fill="#0040ff" d="M434.94 1948.09L484.96 1931.46L454.27 1926.13L404.25 1942.23Z"/>
<path fill="#bf0000" d="M788.49 1848.2L838.51 1828.18L807.82 1858.52L757.8 1875.98Z"/>
<path fill="#0000ef" d="M354.22 1959.67L404.25 1942.23L373.56 1935.73L323.53 1952.65Z"/>
<path fill="#ffff00" d="M707.77 1894.07L757.8 1875.98L727.11 1886.1L677.08 1902.75Z"/>
<path fill="#00009f" d="M273.5 1971.99L323.53 1952.65L292.84 1945.25L242.81 1964.03Z"/>
<path fill="#50ffaf" d="M627.05 1920.07L677.08 1902.75L646.39 1904.95L596.37 1921.27Z"/>
<path fill="#00cfff" d="M546.34 1938.37L596.37 1921.27L565.67 1919.41L515.65 1935.73Z"/>
<path fill="#0060ff" d="M465.63 1953.04L515.65 1935.73L484.96 1931.46L434.94 1948.09Z"/>
<path fill="#0000ff" d="M384.91 1966.17L434.94 1948.09L404.25 1942.23L354.22 1959.67Z"/>
<path fill="#ff1000" d="M738.46 1869.05L788.49 1848.2L757.8 1875.98L707.77 1894.07Z"/>
<path fill="#00009f" d="M304.19 1979.68L354.22 1959.67L323.53 1952.65L273.5 1971.99Z"/>
<path fill="#bfff40" d="M657.75 1912.96L707.77 1894.07L677.08 1902.75L627.05 1920.07Z"/>
<path fill="#10ffef" d="M577.03 1938.29L627.05 1920.07L596.37 1921.27L546.34 1938.37Z"/>
<path fill="#008fff" d="M496.32 1956.58L546.34 1938.37L515.65 1935.73L465.63 1953.04Z"/>
<path fill="#0020ff" d="M415.6 1971.92L465.63 1953.04L434.94 1948.09L384.91 1966.17Z"/>
<path fill="#0000af" d="M334.88 1987.01L384.91 1966.17L354.22 1959.67L304.19 1979.68Z"/>
<path fill="#ff7000" d="M688.43 1890.93L738.46 1869.05L707.77 1894.07L657.75 1912.96Z"/>
<path fill="#70ff8f" d="M607.72 1932.92L657.75 1912.96L627.05 1920.07L577.03 1938.29Z"/>
<path fill="#00bfff" d="M527 1957.76L577.03 1938.29L546.34 1938.37L496.32 1956.58Z"/>
<path fill="#0040ff" d="M446.29 1976.52L496.32 1956.58L465.63 1953.04L415.6 1971.92Z"/>
<path fill="#0000bf" d="M365.57 1993.81L415.6 1971.92L384.91 1966.17L334.88 1987.01Z"/>
<path fill="#ffcf00" d="M638.41 1914.2L688.43 1890.93L657.75 1912.96L607.72 1932.92Z"/>
<path fill="#20ffdf" d="M557.7 1954.36L607.72 1932.92L577.03 1938.29L527 1957.76Z"/>
<path fill="#0070ff" d="M476.98 1979.2L527 1957.76L496.32 1956.58L446.29 1976.52Z"/>
<path fill="#0000df" d="M396.26 1999.8L446.29 1976.52L415.6 1971.92L365.57 1993.81Z"/>
<path fill="#bfff40" d="M588.38 1939.4L638.41 1914.2L607.72 1932.92L557.7 1954.36Z"/>
<path fill="#00afff" d="M507.67 1978.13L557.7 1954.36L527 1957.76L476.98 1979.2Z"/>
<path fill="#0000ff" d="M426.95 2004.43L476.98 1979.2L446.29 1976.52L396.26 1999.8Z"/>
<path fill="#40ffbf" d="M538.36 1967.63L588.38 1939.4L557.7 1954.36L507.67 1978.13Z"/>
<path fill="#0030ff" d="M457.64 2006.4L507.67 1978.13L476.98 1979.2L426.95 2004.43Z"/>
<path fill="#008fff" d="M488.33 2001.71L538.36 1967.63L507.67 1978.13L457.64 2006.4Z"/>
</g>
<text class="tk e" transform="translate(149.8 1991.6) scale(0.95 1)">0</text>
<text class="tk e" transform="translate(149.8 1940.77) scale(0.95 1)">0.2</text>
<text class="tk e" transform="translate(149.8 1889.95) scale(0.95 1)">0.4</text>
<text class="tk e" transform="translate(149.8 1839.12) scale(0.95 1)">0.6</text>
<text class="tk e" transform="translate(149.8 1788.3) scale(0.95 1)">0.8</text>
<text class="tk e" transform="translate(456.5 2100.3) scale(0.95 1)">0</text>
<text class="tk e" transform="translate(303.05 2053.65) scale(0.95 1)">0.5</text>
<text class="tk e" transform="translate(149.6 2007) scale(0.95 1)">1</text>
<text class="tk m" transform="translate(486 2101.8) scale(0.95 1)">0</text>
<text class="tk m" transform="translate(586.05 2083.95) scale(0.95 1)">2</text>
<text class="tk m" transform="translate(686.1 2066.1) scale(0.95 1)">4</text>
<text class="tk m" transform="translate(786.15 2048.25) scale(0.95 1)">6</text>
<text class="tk m" transform="translate(886.2 2030.4) scale(0.95 1)">8</text>
<text class="tk" transform="translate(840.9 2092.1) scale(0.95 1)">x 10<tspan class="sup" dy="-11.2" dx="-0.3">−</tspan><tspan class="sup2">4</tspan></text>
<text class="al" transform="translate(105.7 1856.1) rotate(-90)" text-anchor="middle">R<tspan class="sb" dy="10">02</tspan></text>
<text class="gk" x="280.7" y="2122.6"><tspan font-size="25.6">ρ</tspan><tspan class="sb" dy="10.8">v2</tspan></text>
<text class="gk" x="641.7" y="2127.1">β<tspan class="sb" dy="11.6">h2</tspan></text>
<rect x="883.1" y="1712.2" width="20.9" height="370.5" fill="#fff"/>
<rect x="884.1" y="2073.96" width="18.9" height="6.34" fill="#00008f"/>
<rect x="884.1" y="2068.22" width="18.9" height="6.34" fill="#00009f"/>
<rect x="884.1" y="2062.47" width="18.9" height="6.34" fill="#0000af"/>
<rect x="884.1" y="2056.73" width="18.9" height="6.34" fill="#0000bf"/>
<rect x="884.1" y="2050.99" width="18.9" height="6.34" fill="#0000cf"/>
<rect x="884.1" y="2045.25" width="18.9" height="6.34" fill="#0000df"/>
<rect x="884.1" y="2039.5" width="18.9" height="6.34" fill="#0000ef"/>
<rect x="884.1" y="2033.76" width="18.9" height="6.34" fill="#0000ff"/>
<rect x="884.1" y="2028.02" width="18.9" height="6.34" fill="#0010ff"/>
<rect x="884.1" y="2022.28" width="18.9" height="6.34" fill="#0020ff"/>
<rect x="884.1" y="2016.54" width="18.9" height="6.34" fill="#0030ff"/>
<rect x="884.1" y="2010.79" width="18.9" height="6.34" fill="#0040ff"/>
<rect x="884.1" y="2005.05" width="18.9" height="6.34" fill="#0050ff"/>
<rect x="884.1" y="1999.31" width="18.9" height="6.34" fill="#0060ff"/>
<rect x="884.1" y="1993.57" width="18.9" height="6.34" fill="#0070ff"/>
<rect x="884.1" y="1987.82" width="18.9" height="6.34" fill="#0080ff"/>
<rect x="884.1" y="1982.08" width="18.9" height="6.34" fill="#008fff"/>
<rect x="884.1" y="1976.34" width="18.9" height="6.34" fill="#009fff"/>
<rect x="884.1" y="1970.6" width="18.9" height="6.34" fill="#00afff"/>
<rect x="884.1" y="1964.86" width="18.9" height="6.34" fill="#00bfff"/>
<rect x="884.1" y="1959.11" width="18.9" height="6.34" fill="#00cfff"/>
<rect x="884.1" y="1953.37" width="18.9" height="6.34" fill="#00dfff"/>
<rect x="884.1" y="1947.63" width="18.9" height="6.34" fill="#00efff"/>
<rect x="884.1" y="1941.89" width="18.9" height="6.34" fill="#00ffff"/>
<rect x="884.1" y="1936.15" width="18.9" height="6.34" fill="#10ffef"/>
<rect x="884.1" y="1930.4" width="18.9" height="6.34" fill="#20ffdf"/>
<rect x="884.1" y="1924.66" width="18.9" height="6.34" fill="#30ffcf"/>
<rect x="884.1" y="1918.92" width="18.9" height="6.34" fill="#40ffbf"/>
<rect x="884.1" y="1913.18" width="18.9" height="6.34" fill="#50ffaf"/>
<rect x="884.1" y="1907.43" width="18.9" height="6.34" fill="#60ff9f"/>
<rect x="884.1" y="1901.69" width="18.9" height="6.34" fill="#70ff8f"/>
<rect x="884.1" y="1895.95" width="18.9" height="6.34" fill="#80ff80"/>
<rect x="884.1" y="1890.21" width="18.9" height="6.34" fill="#8fff70"/>
<rect x="884.1" y="1884.47" width="18.9" height="6.34" fill="#9fff60"/>
<rect x="884.1" y="1878.72" width="18.9" height="6.34" fill="#afff50"/>
<rect x="884.1" y="1872.98" width="18.9" height="6.34" fill="#bfff40"/>
<rect x="884.1" y="1867.24" width="18.9" height="6.34" fill="#cfff30"/>
<rect x="884.1" y="1861.5" width="18.9" height="6.34" fill="#dfff20"/>
<rect x="884.1" y="1855.75" width="18.9" height="6.34" fill="#efff10"/>
<rect x="884.1" y="1850.01" width="18.9" height="6.34" fill="#ffff00"/>
<rect x="884.1" y="1844.27" width="18.9" height="6.34" fill="#ffef00"/>
<rect x="884.1" y="1838.53" width="18.9" height="6.34" fill="#ffdf00"/>
<rect x="884.1" y="1832.79" width="18.9" height="6.34" fill="#ffcf00"/>
<rect x="884.1" y="1827.04" width="18.9" height="6.34" fill="#ffbf00"/>
<rect x="884.1" y="1821.3" width="18.9" height="6.34" fill="#ffaf00"/>
<rect x="884.1" y="1815.56" width="18.9" height="6.34" fill="#ff9f00"/>
<rect x="884.1" y="1809.82" width="18.9" height="6.34" fill="#ff8f00"/>
<rect x="884.1" y="1804.08" width="18.9" height="6.34" fill="#ff8000"/>
<rect x="884.1" y="1798.33" width="18.9" height="6.34" fill="#ff7000"/>
<rect x="884.1" y="1792.59" width="18.9" height="6.34" fill="#ff6000"/>
<rect x="884.1" y="1786.85" width="18.9" height="6.34" fill="#ff5000"/>
<rect x="884.1" y="1781.11" width="18.9" height="6.34" fill="#ff4000"/>
<rect x="884.1" y="1775.36" width="18.9" height="6.34" fill="#ff3000"/>
<rect x="884.1" y="1769.62" width="18.9" height="6.34" fill="#ff2000"/>
<rect x="884.1" y="1763.88" width="18.9" height="6.34" fill="#ff1000"/>
<rect x="884.1" y="1758.14" width="18.9" height="6.34" fill="#ff0000"/>
<rect x="884.1" y="1752.4" width="18.9" height="6.34" fill="#ef0000"/>
<rect x="884.1" y="1746.65" width="18.9" height="6.34" fill="#df0000"/>
<rect x="884.1" y="1740.91" width="18.9" height="6.34" fill="#cf0000"/>
<rect x="884.1" y="1735.17" width="18.9" height="6.34" fill="#bf0000"/>
<rect x="884.1" y="1729.43" width="18.9" height="6.34" fill="#af0000"/>
<rect x="884.1" y="1723.68" width="18.9" height="6.34" fill="#9f0000"/>
<rect x="884.1" y="1717.94" width="18.9" height="6.34" fill="#8f0000"/>
<rect x="884.1" y="1712.2" width="18.9" height="6.34" fill="#800000"/>
<text class="tk" transform="translate(905.7 2079.61) scale(0.95 1)">0.1</text>
<text class="tk" transform="translate(905.7 2016.85) scale(0.95 1)">0.2</text>
<text class="tk" transform="translate(905.7 1954.1) scale(0.95 1)">0.3</text>
<text class="tk" transform="translate(905.7 1891.34) scale(0.95 1)">0.4</text>
<text class="tk" transform="translate(905.7 1828.58) scale(0.95 1)">0.5</text>
<text class="tk" transform="translate(905.7 1765.83) scale(0.95 1)">0.6</text>
<path class="ct" d="M884.1 2072.61h3.7M903 2072.61h-3.7M884.1 2009.85h3.7M903 2009.85h-3.7M884.1 1947.1h3.7M903 1947.1h-3.7M884.1 1884.34h3.7M903 1884.34h-3.7M884.1 1821.58h3.7M903 1821.58h-3.7M884.1 1758.83h3.7M903 1758.83h-3.7"/>
<path class="cb" d="M884.1 1712.2H903V2079.7H884.1Z"/>
<text class="cap" x="38" y="2185" textLength="958" lengthAdjust="spacingAndGlyphs">(g) Impact of transmission rate and removal rate for vectors on <tspan class="it">R</tspan><tspan class="cs" dy="5">02</tspan></text>
</g>
<g>
<path class="gr" d="M1509.24 2070.64L1206.14 1980.34M1622.13 2050.73L1319.03 1960.43M1735.01 2030.81L1431.91 1940.51M1392.18 2062.54L1787.28 1992.84M1331.56 2044.48L1726.66 1974.78M1270.94 2026.42L1666.04 1956.72M1210.32 2008.36L1605.42 1938.66M1149.7 1990.3L1544.8 1920.6M1206.14 1980.34L1206.14 1781.24M1319.03 1960.43L1319.03 1761.33M1431.91 1940.51L1431.91 1741.41M1544.8 1920.6L1544.8 1721.5M1149.7 1940.52L1544.8 1870.83M1149.7 1890.75L1544.8 1821.05M1149.7 1840.97L1544.8 1771.28M1149.7 1791.2L1544.8 1721.5M1847.9 2010.9L1847.9 1811.8M1787.28 1992.84L1787.28 1793.74M1726.66 1974.78L1726.66 1775.68M1666.04 1956.72L1666.04 1757.62M1605.42 1938.66L1605.42 1739.56M1847.9 1961.12L1544.8 1870.83M1847.9 1911.35L1544.8 1821.05M1847.9 1861.58L1544.8 1771.28M1847.9 1811.8L1544.8 1721.5"/>
<path class="gr2" d="M1847.9 2010.9L1544.8 1920.6"/>
<path class="ax" d="M1149.7 1791.2L1149.7 1990.3L1452.8 2080.6L1847.9 2010.9M1149.7 1990.3L1139.7 1987.4M1149.7 1940.52L1139.7 1937.62M1149.7 1890.75L1139.7 1887.85M1149.7 1840.97L1139.7 1838.07M1149.7 1791.2L1139.7 1788.3M1452.8 2080.6L1442.76 2082.37M1392.18 2062.54L1382.14 2064.31M1331.56 2044.48L1321.52 2046.25M1270.94 2026.42L1260.9 2028.19M1210.32 2008.36L1200.28 2010.13M1149.7 1990.3L1139.66 1992.07M1509.24 2070.64L1519.02 2073.56M1622.13 2050.73L1631.9 2053.64M1735.01 2030.81L1744.79 2033.73M1847.9 2010.9L1857.68 2013.81"/>
<g class="sf">
<path fill="#ff5000" d="M1518.67 1816.68L1575.11 1794.8L1544.8 1786.16L1488.36 1808.01Z"/>
<path fill="#ff5000" d="M1548.98 1825.28L1605.42 1803.37L1575.11 1794.8L1518.67 1816.68Z"/>
<path fill="#ffaf00" d="M1462.22 1839.45L1518.67 1816.68L1488.36 1808.01L1431.91 1830.75Z"/>
<path fill="#ff4000" d="M1579.29 1833.76L1635.73 1811.82L1605.42 1803.37L1548.98 1825.28Z"/>
<path fill="#ffaf00" d="M1492.53 1848.08L1548.98 1825.28L1518.67 1816.68L1462.22 1839.45Z"/>
<path fill="#efff10" d="M1405.78 1863.34L1462.22 1839.45L1431.91 1830.75L1375.47 1854.61Z"/>
<path fill="#ff4000" d="M1609.6 1842.1L1666.04 1820.1L1635.73 1811.82L1579.29 1833.76Z"/>
<path fill="#ff9f00" d="M1522.84 1856.6L1579.29 1833.76L1548.98 1825.28L1492.53 1848.08Z"/>
<path fill="#efff10" d="M1436.09 1872L1492.53 1848.08L1462.22 1839.45L1405.78 1863.34Z"/>
<path fill="#ff4000" d="M1639.91 1850.2L1696.35 1828.14L1666.04 1820.1L1609.6 1842.1Z"/>
<path fill="#70ff8f" d="M1349.34 1888.7L1405.78 1863.34L1375.47 1854.61L1319.03 1879.94Z"/>
<path fill="#ff9f00" d="M1553.15 1864.99L1609.6 1842.1L1579.29 1833.76L1522.84 1856.6Z"/>
<path fill="#efff10" d="M1466.4 1880.57L1522.84 1856.6L1492.53 1848.08L1436.09 1872Z"/>
<path fill="#ff3000" d="M1670.22 1857.94L1726.66 1835.8L1696.35 1828.14L1639.91 1850.2Z"/>
<path fill="#80ff80" d="M1379.65 1897.4L1436.09 1872L1405.78 1863.34L1349.34 1888.7Z"/>
<path fill="#ff9f00" d="M1583.46 1873.16L1639.91 1850.2L1609.6 1842.1L1553.15 1864.99Z"/>
<path fill="#00efff" d="M1292.9 1916.15L1349.34 1888.7L1319.03 1879.94L1262.59 1907.35Z"/>
<path fill="#efff10" d="M1496.71 1889.01L1553.15 1864.99L1522.84 1856.6L1466.4 1880.57Z"/>
<path fill="#ff2000" d="M1700.53 1865.06L1756.97 1842.78L1726.66 1835.8L1670.22 1857.94Z"/>
<path fill="#80ff80" d="M1409.96 1906.02L1466.4 1880.57L1436.09 1872L1379.65 1897.4Z"/>
<path fill="#ff8f00" d="M1613.77 1881L1670.22 1857.94L1639.91 1850.2L1583.46 1873.16Z"/>
<path fill="#00efff" d="M1323.21 1924.89L1379.65 1897.4L1349.34 1888.7L1292.9 1916.15Z"/>
<path fill="#ffff00" d="M1527.02 1897.26L1583.46 1873.16L1553.15 1864.99L1496.71 1889.01Z"/>
<path fill="#ff1000" d="M1730.84 1870.95L1787.28 1848.45L1756.97 1842.78L1700.53 1865.06Z"/>
<path fill="#0050ff" d="M1236.45 1946.85L1292.9 1916.15L1262.59 1907.35L1206.14 1938.01Z"/>
<path fill="#80ff80" d="M1440.27 1914.52L1496.71 1889.01L1466.4 1880.57L1409.96 1906.02Z"/>
<path fill="#ff8000" d="M1644.08 1888.26L1700.53 1865.06L1670.22 1857.94L1613.77 1881Z"/>
<path fill="#00efff" d="M1353.52 1933.56L1409.96 1906.02L1379.65 1897.4L1323.21 1924.89Z"/>
<path fill="#ffff00" d="M1557.33 1905.2L1613.77 1881L1583.46 1873.16L1527.02 1897.26Z"/>
<path fill="#df0000" d="M1761.15 1873.85L1817.59 1850.92L1787.28 1848.45L1730.84 1870.95Z"/>
<path fill="#0050ff" d="M1266.76 1955.64L1323.21 1924.89L1292.9 1916.15L1236.45 1946.85Z"/>
<path fill="#80ff80" d="M1470.58 1922.85L1527.02 1897.26L1496.71 1889.01L1440.27 1914.52Z"/>
<path fill="#ff7000" d="M1674.39 1894.38L1730.84 1870.95L1700.53 1865.06L1644.08 1888.26Z"/>
<path fill="#00008f" d="M1180.01 1983.84L1236.45 1946.85L1206.14 1938.01L1149.7 1974.94Z"/>
<path fill="#00ffff" d="M1383.83 1942.14L1440.27 1914.52L1409.96 1906.02L1353.52 1933.56Z"/>
<path fill="#ffef00" d="M1587.64 1912.61L1644.08 1888.26L1613.77 1881L1557.33 1905.2Z"/>
<path fill="#0060ff" d="M1297.07 1964.38L1353.52 1933.56L1323.21 1924.89L1266.76 1955.64Z"/>
<path fill="#8fff70" d="M1500.89 1930.91L1557.33 1905.2L1527.02 1897.26L1470.58 1922.85Z"/>
<path fill="#ff4000" d="M1704.7 1897.73L1761.15 1873.85L1730.84 1870.95L1674.39 1894.38Z"/>
<path fill="#00008f" d="M1210.32 1992.7L1266.76 1955.64L1236.45 1946.85L1180.01 1983.84Z"/>
<path fill="#00ffff" d="M1414.14 1950.56L1470.58 1922.85L1440.27 1914.52L1383.83 1942.14Z"/>
<path fill="#ffdf00" d="M1617.95 1918.98L1674.39 1894.38L1644.08 1888.26L1587.64 1912.61Z"/>
<path fill="#0060ff" d="M1327.38 1973.04L1383.83 1942.14L1353.52 1933.56L1297.07 1964.38Z"/>
<path fill="#8fff70" d="M1531.2 1938.49L1587.64 1912.61L1557.33 1905.2L1500.89 1930.91Z"/>
<path fill="#00008f" d="M1240.63 2001.53L1297.07 1964.38L1266.76 1955.64L1210.32 1992.7Z"/>
<path fill="#00ffff" d="M1444.45 1958.75L1500.89 1930.91L1470.58 1922.85L1414.14 1950.56Z"/>
<path fill="#ffaf00" d="M1648.26 1922.83L1704.7 1897.73L1674.39 1894.38L1617.95 1918.98Z"/>
<path fill="#0060ff" d="M1357.69 1981.58L1414.14 1950.56L1383.83 1942.14L1327.38 1973.04Z"/>
<path fill="#afff50" d="M1561.51 1945.15L1617.95 1918.98L1587.64 1912.61L1531.2 1938.49Z"/>
<path fill="#00008f" d="M1270.94 2010.29L1327.38 1973.04L1297.07 1964.38L1240.63 2001.53Z"/>
<path fill="#10ffef" d="M1474.76 1966.53L1531.2 1938.49L1500.89 1930.91L1444.45 1958.75Z"/>
<path fill="#0060ff" d="M1388 1989.92L1444.45 1958.75L1414.14 1950.56L1357.69 1981.58Z"/>
<path fill="#cfff30" d="M1591.82 1949.54L1648.26 1922.83L1617.95 1918.98L1561.51 1945.15Z"/>
<path fill="#00008f" d="M1301.25 2018.97L1357.69 1981.58L1327.38 1973.04L1270.94 2010.29Z"/>
<path fill="#20ffdf" d="M1505.07 1973.5L1561.51 1945.15L1531.2 1938.49L1474.76 1966.53Z"/>
<path fill="#0070ff" d="M1418.31 1997.93L1474.76 1966.53L1444.45 1958.75L1388 1989.92Z"/>
<path fill="#00008f" d="M1331.56 2027.52L1388 1989.92L1357.69 1981.58L1301.25 2018.97Z"/>
<path fill="#40ffbf" d="M1535.38 1978.52L1591.82 1949.54L1561.51 1945.15L1505.07 1973.5Z"/>
<path fill="#0080ff" d="M1448.62 2005.27L1505.07 1973.5L1474.76 1966.53L1418.31 1997.93Z"/>
<path fill="#00009f" d="M1361.87 2035.83L1418.31 1997.93L1388 1989.92L1331.56 2027.52Z"/>
<path fill="#008fff" d="M1478.93 2011.03L1535.38 1978.52L1505.07 1973.5L1448.62 2005.27Z"/>
<path fill="#00009f" d="M1392.18 2043.67L1448.62 2005.27L1418.31 1997.93L1361.87 2035.83Z"/>
<path fill="#0000af" d="M1422.49 2050.38L1478.93 2011.03L1448.62 2005.27L1392.18 2043.67Z"/>
</g>
<text class="tk e" transform="translate(1137.4 1994.5) scale(0.883 0.93)">0.2</text>
<text class="tk e" transform="translate(1137.4 1944.72) scale(0.883 0.93)">0.4</text>
<text class="tk e" transform="translate(1137.4 1894.95) scale(0.883 0.93)">0.6</text>
<text class="tk e" transform="translate(1137.4 1845.17) scale(0.883 0.93)">0.8</text>
<text class="tk e" transform="translate(1137.4 1795.4) scale(0.883 0.93)">1</text>
<text class="tk e" transform="translate(1440.3 2099.1) scale(0.883 0.93)">0</text>
<text class="tk e" transform="translate(1379.68 2081.04) scale(0.883 0.93)">0.2</text>
<text class="tk e" transform="translate(1319.06 2062.98) scale(0.883 0.93)">0.4</text>
<text class="tk e" transform="translate(1258.44 2044.92) scale(0.883 0.93)">0.6</text>
<text class="tk e" transform="translate(1197.82 2026.86) scale(0.883 0.93)">0.8</text>
<text class="tk e" transform="translate(1137.2 2008.8) scale(0.883 0.93)">1</text>
<text class="tk m" transform="translate(1526.24 2090.34) scale(0.883 0.93)">2</text>
<text class="tk m" transform="translate(1639.13 2070.43) scale(0.883 0.93)">4</text>
<text class="tk m" transform="translate(1752.01 2050.51) scale(0.883 0.93)">6</text>
<text class="tk m" transform="translate(1864.9 2030.6) scale(0.883 0.93)">8</text>
<text class="tk" transform="translate(1820.3 2090.6) scale(0.883 0.93)">x 10<tspan class="sup" dy="-11.2" dx="-0.3">−</tspan><tspan class="sup2">4</tspan></text>
<text class="al" transform="translate(1094 1883) rotate(-90)" text-anchor="middle">R<tspan class="sb" dy="10">02</tspan></text>
<text class="gk" x="1267" y="2123.5"><tspan font-size="28.5">ζ</tspan><tspan class="sb" dy="10.8">h2</tspan></text>
<text class="gk" x="1622.8" y="2126.6">β<tspan class="sb" dy="11.6">h2</tspan></text>
<rect x="1862.4" y="1719.5" width="20.5" height="363.4" fill="#fff"/>
<rect x="1863.4" y="2074.27" width="18.5" height="6.23" fill="#00008f"/>
<rect x="1863.4" y="2068.64" width="18.5" height="6.23" fill="#00009f"/>
<rect x="1863.4" y="2063.01" width="18.5" height="6.23" fill="#0000af"/>
<rect x="1863.4" y="2057.38" width="18.5" height="6.23" fill="#0000bf"/>
<rect x="1863.4" y="2051.74" width="18.5" height="6.23" fill="#0000cf"/>
<rect x="1863.4" y="2046.11" width="18.5" height="6.23" fill="#0000df"/>
<rect x="1863.4" y="2040.48" width="18.5" height="6.23" fill="#0000ef"/>
<rect x="1863.4" y="2034.85" width="18.5" height="6.23" fill="#0000ff"/>
<rect x="1863.4" y="2029.22" width="18.5" height="6.23" fill="#0010ff"/>
<rect x="1863.4" y="2023.59" width="18.5" height="6.23" fill="#0020ff"/>
<rect x="1863.4" y="2017.96" width="18.5" height="6.23" fill="#0030ff"/>
<rect x="1863.4" y="2012.33" width="18.5" height="6.23" fill="#0040ff"/>
<rect x="1863.4" y="2006.69" width="18.5" height="6.23" fill="#0050ff"/>
<rect x="1863.4" y="2001.06" width="18.5" height="6.23" fill="#0060ff"/>
<rect x="1863.4" y="1995.43" width="18.5" height="6.23" fill="#0070ff"/>
<rect x="1863.4" y="1989.8" width="18.5" height="6.23" fill="#0080ff"/>
<rect x="1863.4" y="1984.17" width="18.5" height="6.23" fill="#008fff"/>
<rect x="1863.4" y="1978.54" width="18.5" height="6.23" fill="#009fff"/>
<rect x="1863.4" y="1972.91" width="18.5" height="6.23" fill="#00afff"/>
<rect x="1863.4" y="1967.28" width="18.5" height="6.23" fill="#00bfff"/>
<rect x="1863.4" y="1961.64" width="18.5" height="6.23" fill="#00cfff"/>
<rect x="1863.4" y="1956.01" width="18.5" height="6.23" fill="#00dfff"/>
<rect x="1863.4" y="1950.38" width="18.5" height="6.23" fill="#00efff"/>
<rect x="1863.4" y="1944.75" width="18.5" height="6.23" fill="#00ffff"/>
<rect x="1863.4" y="1939.12" width="18.5" height="6.23" fill="#10ffef"/>
<rect x="1863.4" y="1933.49" width="18.5" height="6.23" fill="#20ffdf"/>
<rect x="1863.4" y="1927.86" width="18.5" height="6.23" fill="#30ffcf"/>
<rect x="1863.4" y="1922.23" width="18.5" height="6.23" fill="#40ffbf"/>
<rect x="1863.4" y="1916.59" width="18.5" height="6.23" fill="#50ffaf"/>
<rect x="1863.4" y="1910.96" width="18.5" height="6.23" fill="#60ff9f"/>
<rect x="1863.4" y="1905.33" width="18.5" height="6.23" fill="#70ff8f"/>
<rect x="1863.4" y="1899.7" width="18.5" height="6.23" fill="#80ff80"/>
<rect x="1863.4" y="1894.07" width="18.5" height="6.23" fill="#8fff70"/>
<rect x="1863.4" y="1888.44" width="18.5" height="6.23" fill="#9fff60"/>
<rect x="1863.4" y="1882.81" width="18.5" height="6.23" fill="#afff50"/>
<rect x="1863.4" y="1877.17" width="18.5" height="6.23" fill="#bfff40"/>
<rect x="1863.4" y="1871.54" width="18.5" height="6.23" fill="#cfff30"/>
<rect x="1863.4" y="1865.91" width="18.5" height="6.23" fill="#dfff20"/>
<rect x="1863.4" y="1860.28" width="18.5" height="6.23" fill="#efff10"/>
<rect x="1863.4" y="1854.65" width="18.5" height="6.23" fill="#ffff00"/>
<rect x="1863.4" y="1849.02" width="18.5" height="6.23" fill="#ffef00"/>
<rect x="1863.4" y="1843.39" width="18.5" height="6.23" fill="#ffdf00"/>
<rect x="1863.4" y="1837.76" width="18.5" height="6.23" fill="#ffcf00"/>
<rect x="1863.4" y="1832.12" width="18.5" height="6.23" fill="#ffbf00"/>
<rect x="1863.4" y="1826.49" width="18.5" height="6.23" fill="#ffaf00"/>
<rect x="1863.4" y="1820.86" width="18.5" height="6.23" fill="#ff9f00"/>
<rect x="1863.4" y="1815.23" width="18.5" height="6.23" fill="#ff8f00"/>
<rect x="1863.4" y="1809.6" width="18.5" height="6.23" fill="#ff8000"/>
<rect x="1863.4" y="1803.97" width="18.5" height="6.23" fill="#ff7000"/>
<rect x="1863.4" y="1798.34" width="18.5" height="6.23" fill="#ff6000"/>
<rect x="1863.4" y="1792.71" width="18.5" height="6.23" fill="#ff5000"/>
<rect x="1863.4" y="1787.08" width="18.5" height="6.23" fill="#ff4000"/>
<rect x="1863.4" y="1781.44" width="18.5" height="6.23" fill="#ff3000"/>
<rect x="1863.4" y="1775.81" width="18.5" height="6.23" fill="#ff2000"/>
<rect x="1863.4" y="1770.18" width="18.5" height="6.23" fill="#ff1000"/>
<rect x="1863.4" y="1764.55" width="18.5" height="6.23" fill="#ff0000"/>
<rect x="1863.4" y="1758.92" width="18.5" height="6.23" fill="#ef0000"/>
<rect x="1863.4" y="1753.29" width="18.5" height="6.23" fill="#df0000"/>
<rect x="1863.4" y="1747.66" width="18.5" height="6.23" fill="#cf0000"/>
<rect x="1863.4" y="1742.03" width="18.5" height="6.23" fill="#bf0000"/>
<rect x="1863.4" y="1736.39" width="18.5" height="6.23" fill="#af0000"/>
<rect x="1863.4" y="1730.76" width="18.5" height="6.23" fill="#9f0000"/>
<rect x="1863.4" y="1725.13" width="18.5" height="6.23" fill="#8f0000"/>
<rect x="1863.4" y="1719.5" width="18.5" height="6.23" fill="#800000"/>
<text class="tk" transform="translate(1884.6 2060.91) scale(0.883 0.93)">0.3</text>
<text class="tk" transform="translate(1884.6 2027.95) scale(0.883 0.93)">0.35</text>
<text class="tk" transform="translate(1884.6 1995) scale(0.883 0.93)">0.4</text>
<text class="tk" transform="translate(1884.6 1962.04) scale(0.883 0.93)">0.45</text>
<text class="tk" transform="translate(1884.6 1929.08) scale(0.883 0.93)">0.5</text>
<text class="tk" transform="translate(1884.6 1896.12) scale(0.883 0.93)">0.55</text>
<text class="tk" transform="translate(1884.6 1863.17) scale(0.883 0.93)">0.6</text>
<text class="tk" transform="translate(1884.6 1830.21) scale(0.883 0.93)">0.65</text>
<text class="tk" transform="translate(1884.6 1797.25) scale(0.883 0.93)">0.7</text>
<text class="tk" transform="translate(1884.6 1764.3) scale(0.883 0.93)">0.75</text>
<text class="tk" transform="translate(1884.6 1731.34) scale(0.883 0.93)">0.8</text>
<path class="ct" d="M1863.4 2053.91h3.7M1881.9 2053.91h-3.7M1863.4 2020.95h3.7M1881.9 2020.95h-3.7M1863.4 1988h3.7M1881.9 1988h-3.7M1863.4 1955.04h3.7M1881.9 1955.04h-3.7M1863.4 1922.08h3.7M1881.9 1922.08h-3.7M1863.4 1889.12h3.7M1881.9 1889.12h-3.7M1863.4 1856.17h3.7M1881.9 1856.17h-3.7M1863.4 1823.21h3.7M1881.9 1823.21h-3.7M1863.4 1790.25h3.7M1881.9 1790.25h-3.7M1863.4 1757.3h3.7M1881.9 1757.3h-3.7M1863.4 1724.34h3.7M1881.9 1724.34h-3.7"/>
<path class="cb" d="M1863.4 1719.5H1881.9V2079.9H1863.4Z"/>
<text class="cap" x="1097" y="2185" textLength="805" lengthAdjust="spacingAndGlyphs">(h) Impact of transmission rate and recovery rate on <tspan class="it">R</tspan><tspan class="cs" dy="5">02</tspan></text>
</g>
</svg>
</body>
</html>
